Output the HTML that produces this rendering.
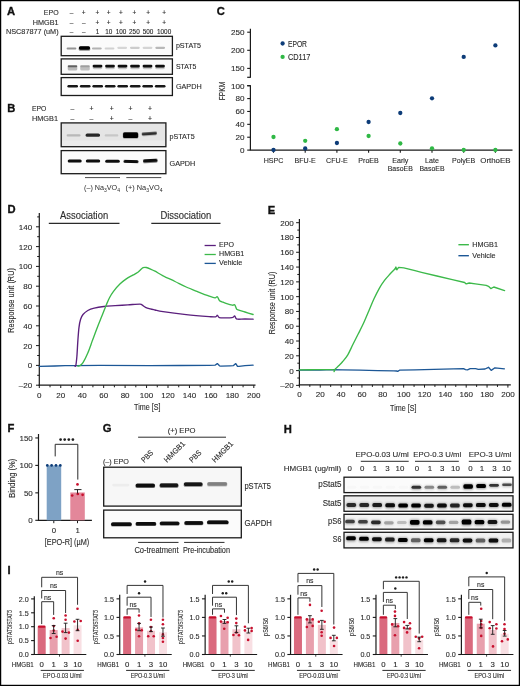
<!DOCTYPE html>
<html><head><meta charset="utf-8"><title>Figure</title>
<style>html,body{margin:0;padding:0;background:#fff;}body{width:520px;height:686px;overflow:hidden;font-family:"Liberation Sans", sans-serif;}svg{display:block;}</style></head><body>
<svg width="520" height="686" viewBox="0 0 520 686">
<defs><filter id="b1" x="-50%" y="-200%" width="200%" height="500%"><feGaussianBlur stdDeviation="0.75"/></filter><filter id="b05" x="-50%" y="-200%" width="200%" height="500%"><feGaussianBlur stdDeviation="0.45"/></filter><filter id="b2" x="-50%" y="-200%" width="200%" height="500%"><feGaussianBlur stdDeviation="1.1"/></filter><filter id="b15" x="-50%" y="-200%" width="200%" height="500%"><feGaussianBlur stdDeviation="0.9"/></filter></defs>
<rect x="0.00" y="0.00" width="520.00" height="686.00" fill="#ffffff"/>
<g font-family="'Liberation Sans', sans-serif" fill="#2b2b2b" style="will-change:transform">
<text x="6.90" y="14.80" font-size="11.2" font-weight="bold" fill="#111" stroke="#111" stroke-width="0.35">A</text>
<text x="58.60" y="15.30" font-size="7.4" text-anchor="end" textLength="14.8" lengthAdjust="spacingAndGlyphs" stroke="#2b2b2b" stroke-width="0.12">EPO</text>
<text x="58.60" y="24.50" font-size="7.4" text-anchor="end" textLength="25.8" lengthAdjust="spacingAndGlyphs" stroke="#2b2b2b" stroke-width="0.12">HMGB1</text>
<text x="58.60" y="33.50" font-size="7.4" text-anchor="end" textLength="52.6" lengthAdjust="spacingAndGlyphs" stroke="#2b2b2b" stroke-width="0.12">NSC87877 (uM)</text>
<text x="71.50" y="15.30" font-size="6.5" text-anchor="middle" stroke="#2b2b2b" stroke-width="0.12">–</text>
<text x="71.50" y="24.50" font-size="6.5" text-anchor="middle" stroke="#2b2b2b" stroke-width="0.12">–</text>
<text x="71.50" y="33.60" font-size="6.4" text-anchor="middle" stroke="#2b2b2b" stroke-width="0.12">–</text>
<text x="83.70" y="15.30" font-size="6.5" text-anchor="middle" stroke="#2b2b2b" stroke-width="0.12">+</text>
<text x="83.70" y="24.50" font-size="6.5" text-anchor="middle" stroke="#2b2b2b" stroke-width="0.12">–</text>
<text x="83.70" y="33.60" font-size="6.4" text-anchor="middle" stroke="#2b2b2b" stroke-width="0.12">–</text>
<text x="97.50" y="15.30" font-size="6.5" text-anchor="middle" stroke="#2b2b2b" stroke-width="0.12">+</text>
<text x="97.50" y="24.50" font-size="6.5" text-anchor="middle" stroke="#2b2b2b" stroke-width="0.12">+</text>
<text x="97.50" y="33.60" font-size="6.4" text-anchor="middle" stroke="#2b2b2b" stroke-width="0.12">1</text>
<text x="108.70" y="15.30" font-size="6.5" text-anchor="middle" stroke="#2b2b2b" stroke-width="0.12">+</text>
<text x="108.70" y="24.50" font-size="6.5" text-anchor="middle" stroke="#2b2b2b" stroke-width="0.12">+</text>
<text x="108.70" y="33.60" font-size="6.4" text-anchor="middle" stroke="#2b2b2b" stroke-width="0.12">10</text>
<text x="121.00" y="15.30" font-size="6.5" text-anchor="middle" stroke="#2b2b2b" stroke-width="0.12">+</text>
<text x="121.00" y="24.50" font-size="6.5" text-anchor="middle" stroke="#2b2b2b" stroke-width="0.12">+</text>
<text x="121.00" y="33.60" font-size="6.4" text-anchor="middle" stroke="#2b2b2b" stroke-width="0.12">100</text>
<text x="134.40" y="15.30" font-size="6.5" text-anchor="middle" stroke="#2b2b2b" stroke-width="0.12">+</text>
<text x="134.40" y="24.50" font-size="6.5" text-anchor="middle" stroke="#2b2b2b" stroke-width="0.12">+</text>
<text x="134.40" y="33.60" font-size="6.4" text-anchor="middle" stroke="#2b2b2b" stroke-width="0.12">250</text>
<text x="148.10" y="15.30" font-size="6.5" text-anchor="middle" stroke="#2b2b2b" stroke-width="0.12">+</text>
<text x="148.10" y="24.50" font-size="6.5" text-anchor="middle" stroke="#2b2b2b" stroke-width="0.12">+</text>
<text x="148.10" y="33.60" font-size="6.4" text-anchor="middle" stroke="#2b2b2b" stroke-width="0.12">500</text>
<text x="164.10" y="15.30" font-size="6.5" text-anchor="middle" stroke="#2b2b2b" stroke-width="0.12">+</text>
<text x="164.10" y="24.50" font-size="6.5" text-anchor="middle" stroke="#2b2b2b" stroke-width="0.12">+</text>
<text x="164.10" y="33.60" font-size="6.4" text-anchor="middle" stroke="#2b2b2b" stroke-width="0.12">1000</text>
<rect x="61.20" y="36.30" width="111.20" height="19.40" fill="#fbfbfb"/>
<rect x="66.60" y="47.40" width="9.80" height="2.20" rx="1.10" fill="rgb(148,148,148)" filter="url(#b1)"/>
<rect x="78.67" y="46.40" width="11.60" height="4.40" rx="1.60" fill="rgb(140,140,140)" filter="url(#b1)"/>
<rect x="78.87" y="46.30" width="11.20" height="3.40" rx="1.60" fill="rgb(0,0,0)" filter="url(#b05)"/>
<rect x="91.94" y="47.40" width="9.80" height="2.20" rx="1.10" fill="rgb(178,178,178)" filter="url(#b1)"/>
<rect x="104.61" y="47.40" width="9.80" height="2.20" rx="1.10" fill="rgb(209,209,209)" filter="url(#b1)"/>
<rect x="117.28" y="46.70" width="9.80" height="2.20" rx="1.10" fill="rgb(214,214,214)" filter="url(#b1)"/>
<rect x="129.95" y="46.70" width="9.80" height="2.20" rx="1.10" fill="rgb(204,204,204)" filter="url(#b1)"/>
<rect x="142.62" y="46.70" width="9.80" height="2.20" rx="1.10" fill="rgb(212,212,212)" filter="url(#b1)"/>
<rect x="155.29" y="46.70" width="9.80" height="2.20" rx="1.10" fill="rgb(184,184,184)" filter="url(#b1)"/>
<rect x="61.20" y="36.30" width="111.20" height="19.40" fill="none" stroke="#1a1a1a" stroke-width="1.3"/>
<rect x="61.20" y="58.90" width="111.20" height="15.40" fill="#fafafa"/>
<rect x="67.70" y="65.90" width="9.60" height="4.60" rx="1.60" fill="rgb(184,184,184)" filter="url(#b1)"/>
<rect x="67.70" y="65.20" width="9.60" height="2.00" rx="1.00" fill="rgb(97,97,97)" filter="url(#b1)"/>
<rect x="80.20" y="65.90" width="9.60" height="4.60" rx="1.60" fill="rgb(191,191,191)" filter="url(#b1)"/>
<rect x="80.20" y="65.20" width="9.60" height="2.00" rx="1.00" fill="rgb(158,158,158)" filter="url(#b1)"/>
<rect x="92.60" y="65.60" width="9.80" height="3.60" rx="1.60" fill="rgb(199,199,199)" filter="url(#b1)"/>
<rect x="92.60" y="64.80" width="9.80" height="2.60" rx="1.30" fill="rgb(13,13,13)" filter="url(#b05)"/>
<rect x="105.10" y="65.60" width="9.80" height="3.60" rx="1.60" fill="rgb(199,199,199)" filter="url(#b1)"/>
<rect x="105.10" y="64.80" width="9.80" height="2.60" rx="1.30" fill="rgb(13,13,13)" filter="url(#b05)"/>
<rect x="117.60" y="65.60" width="9.80" height="3.60" rx="1.60" fill="rgb(199,199,199)" filter="url(#b1)"/>
<rect x="117.60" y="64.80" width="9.80" height="2.60" rx="1.30" fill="rgb(13,13,13)" filter="url(#b05)"/>
<rect x="130.10" y="65.60" width="9.80" height="3.60" rx="1.60" fill="rgb(199,199,199)" filter="url(#b1)"/>
<rect x="130.10" y="64.80" width="9.80" height="2.60" rx="1.30" fill="rgb(13,13,13)" filter="url(#b05)"/>
<rect x="142.60" y="65.60" width="9.80" height="3.60" rx="1.60" fill="rgb(199,199,199)" filter="url(#b1)"/>
<rect x="142.60" y="64.80" width="9.80" height="2.60" rx="1.30" fill="rgb(13,13,13)" filter="url(#b05)"/>
<rect x="155.10" y="65.60" width="9.80" height="3.60" rx="1.60" fill="rgb(199,199,199)" filter="url(#b1)"/>
<rect x="155.10" y="64.80" width="9.80" height="2.60" rx="1.30" fill="rgb(13,13,13)" filter="url(#b05)"/>
<rect x="61.20" y="58.90" width="111.20" height="15.40" fill="none" stroke="#1a1a1a" stroke-width="1.3"/>
<rect x="61.20" y="77.60" width="111.20" height="17.90" fill="#fcfcfc"/>
<rect x="67.40" y="84.90" width="10.60" height="2.60" rx="1.30" fill="rgb(18,18,18)" filter="url(#b05)"/>
<rect x="79.90" y="84.90" width="10.60" height="2.60" rx="1.30" fill="rgb(18,18,18)" filter="url(#b05)"/>
<rect x="92.40" y="84.90" width="10.60" height="2.60" rx="1.30" fill="rgb(18,18,18)" filter="url(#b05)"/>
<rect x="104.90" y="84.90" width="10.60" height="2.60" rx="1.30" fill="rgb(18,18,18)" filter="url(#b05)"/>
<rect x="117.40" y="84.90" width="10.60" height="2.60" rx="1.30" fill="rgb(18,18,18)" filter="url(#b05)"/>
<rect x="129.90" y="84.90" width="10.60" height="2.60" rx="1.30" fill="rgb(18,18,18)" filter="url(#b05)"/>
<rect x="142.40" y="84.90" width="10.60" height="2.60" rx="1.30" fill="rgb(18,18,18)" filter="url(#b05)"/>
<rect x="154.90" y="84.90" width="10.60" height="2.60" rx="1.30" fill="rgb(18,18,18)" filter="url(#b05)"/>
<rect x="61.20" y="77.60" width="111.20" height="17.90" fill="none" stroke="#1a1a1a" stroke-width="1.3"/>
<text x="175.90" y="47.90" font-size="7.7" textLength="25.1" lengthAdjust="spacingAndGlyphs" stroke="#2b2b2b" stroke-width="0.12">pSTAT5</text>
<text x="175.90" y="68.80" font-size="7.7" textLength="20.5" lengthAdjust="spacingAndGlyphs" stroke="#2b2b2b" stroke-width="0.12">STAT5</text>
<text x="175.90" y="88.80" font-size="7.7" textLength="25.8" lengthAdjust="spacingAndGlyphs" stroke="#2b2b2b" stroke-width="0.12">GAPDH</text>
<text x="7.30" y="111.80" font-size="11.2" font-weight="bold" fill="#111" stroke="#111" stroke-width="0.35">B</text>
<text x="32.00" y="111.30" font-size="7.5" textLength="14.4" lengthAdjust="spacingAndGlyphs" stroke="#2b2b2b" stroke-width="0.12">EPO</text>
<text x="32.00" y="120.80" font-size="7.5" textLength="26.0" lengthAdjust="spacingAndGlyphs" stroke="#2b2b2b" stroke-width="0.12">HMGB1</text>
<text x="72.50" y="111.30" font-size="6.8" text-anchor="middle" stroke="#2b2b2b" stroke-width="0.12">–</text>
<text x="72.50" y="120.70" font-size="6.8" text-anchor="middle" stroke="#2b2b2b" stroke-width="0.12">–</text>
<text x="91.50" y="111.30" font-size="6.8" text-anchor="middle" stroke="#2b2b2b" stroke-width="0.12">+</text>
<text x="91.50" y="120.70" font-size="6.8" text-anchor="middle" stroke="#2b2b2b" stroke-width="0.12">–</text>
<text x="111.70" y="111.30" font-size="6.8" text-anchor="middle" stroke="#2b2b2b" stroke-width="0.12">+</text>
<text x="111.70" y="120.70" font-size="6.8" text-anchor="middle" stroke="#2b2b2b" stroke-width="0.12">+</text>
<text x="130.50" y="111.30" font-size="6.8" text-anchor="middle" stroke="#2b2b2b" stroke-width="0.12">+</text>
<text x="130.50" y="120.70" font-size="6.8" text-anchor="middle" stroke="#2b2b2b" stroke-width="0.12">–</text>
<text x="150.00" y="111.30" font-size="6.8" text-anchor="middle" stroke="#2b2b2b" stroke-width="0.12">+</text>
<text x="150.00" y="120.70" font-size="6.8" text-anchor="middle" stroke="#2b2b2b" stroke-width="0.12">+</text>
<rect x="61.20" y="122.90" width="104.70" height="23.80" fill="#e5e5e5"/>
<rect x="61.2" y="140.5" width="104.7" height="6.2" fill="#ebebeb" filter="url(#b1)"/>
<rect x="66.60" y="134.30" width="14.00" height="2.20" rx="1.10" fill="rgb(184,184,184)" filter="url(#b1)"/>
<rect x="85.60" y="133.40" width="14.40" height="3.40" rx="1.60" fill="rgb(38,38,38)" filter="url(#b1)"/>
<rect x="104.65" y="134.30" width="13.70" height="2.20" rx="1.10" fill="rgb(199,199,199)" filter="url(#b1)"/>
<rect x="122.80" y="132.10" width="15.60" height="6.40" rx="1.60" fill="rgb(128,128,128)" filter="url(#b1)"/>
<rect x="123.10" y="132.40" width="15.00" height="5.60" rx="1.60" fill="rgb(0,0,0)" filter="url(#b05)"/>
<rect x="141.65" y="132.25" width="15.30" height="2.90" rx="1.45" fill="rgb(46,46,46)" filter="url(#b1)" transform="rotate(-4 149.30 133.70)"/>
<rect x="61.20" y="122.90" width="104.70" height="23.80" fill="none" stroke="#1a1a1a" stroke-width="1.3"/>
<rect x="61.20" y="150.60" width="104.70" height="23.10" fill="#fbfbfb"/>
<rect x="67.70" y="159.50" width="14.00" height="3.00" rx="1.50" fill="rgb(13,13,13)" filter="url(#b1)"/>
<rect x="85.80" y="159.50" width="14.40" height="3.00" rx="1.50" fill="rgb(13,13,13)" filter="url(#b1)"/>
<rect x="105.20" y="159.70" width="14.60" height="3.00" rx="1.50" fill="rgb(13,13,13)" filter="url(#b1)"/>
<rect x="123.50" y="160.10" width="15.00" height="3.00" rx="1.50" fill="rgb(13,13,13)" filter="url(#b1)" transform="rotate(1.5 131.00 161.60)"/>
<rect x="143.00" y="159.00" width="14.60" height="3.60" rx="1.60" fill="rgb(13,13,13)" filter="url(#b1)" transform="rotate(-3 150.30 160.80)"/>
<rect x="61.20" y="150.60" width="104.70" height="23.10" fill="none" stroke="#1a1a1a" stroke-width="1.3"/>
<text x="169.50" y="138.90" font-size="7.7" textLength="25.1" lengthAdjust="spacingAndGlyphs" stroke="#2b2b2b" stroke-width="0.12">pSTAT5</text>
<text x="169.50" y="166.40" font-size="7.7" textLength="25.8" lengthAdjust="spacingAndGlyphs" stroke="#2b2b2b" stroke-width="0.12">GAPDH</text>
<line x1="85.00" y1="177.60" x2="120.00" y2="177.60" stroke="#333" stroke-width="0.9"/>
<line x1="126.30" y1="177.60" x2="161.30" y2="177.60" stroke="#333" stroke-width="0.9"/>
<text x="84" y="190.2" font-size="7.2" fill="#2b2b2b" textLength="36" lengthAdjust="spacingAndGlyphs">(–) Na<tspan font-size="5" dy="1.5">3</tspan><tspan dy="-1.5">VO</tspan><tspan font-size="5" dy="1.5">4</tspan></text>
<text x="125.5" y="190.2" font-size="7.2" fill="#2b2b2b" textLength="37" lengthAdjust="spacingAndGlyphs">(+) Na<tspan font-size="5" dy="1.5">3</tspan><tspan dy="-1.5">VO</tspan><tspan font-size="5" dy="1.5">4</tspan></text>
<text x="216.80" y="15.20" font-size="11.2" font-weight="bold" fill="#111" stroke="#111" stroke-width="0.35">C</text>
<line x1="250.40" y1="28.80" x2="250.40" y2="77.30" stroke="#1a1a1a" stroke-width="1.2"/>
<line x1="247.20" y1="77.30" x2="250.90" y2="77.30" stroke="#1a1a1a" stroke-width="1.2"/>
<line x1="247.20" y1="32.20" x2="250.40" y2="32.20" stroke="#1a1a1a" stroke-width="1.1"/>
<text x="244.50" y="35.10" font-size="8.1" text-anchor="end" stroke="#2b2b2b" stroke-width="0.12">250</text>
<line x1="247.20" y1="50.30" x2="250.40" y2="50.30" stroke="#1a1a1a" stroke-width="1.1"/>
<text x="244.50" y="53.20" font-size="8.1" text-anchor="end" stroke="#2b2b2b" stroke-width="0.12">200</text>
<line x1="247.20" y1="68.40" x2="250.40" y2="68.40" stroke="#1a1a1a" stroke-width="1.1"/>
<text x="244.50" y="71.30" font-size="8.1" text-anchor="end" stroke="#2b2b2b" stroke-width="0.12">150</text>
<line x1="250.40" y1="85.70" x2="250.40" y2="150.10" stroke="#1a1a1a" stroke-width="1.2"/>
<line x1="247.20" y1="85.70" x2="250.90" y2="85.70" stroke="#1a1a1a" stroke-width="1.2"/>
<line x1="247.20" y1="85.70" x2="250.40" y2="85.70" stroke="#1a1a1a" stroke-width="1.1"/>
<text x="244.50" y="88.60" font-size="8.1" text-anchor="end" stroke="#2b2b2b" stroke-width="0.12">100</text>
<line x1="247.20" y1="98.58" x2="250.40" y2="98.58" stroke="#1a1a1a" stroke-width="1.1"/>
<text x="244.50" y="101.48" font-size="8.1" text-anchor="end" stroke="#2b2b2b" stroke-width="0.12">80</text>
<line x1="247.20" y1="111.46" x2="250.40" y2="111.46" stroke="#1a1a1a" stroke-width="1.1"/>
<text x="244.50" y="114.36" font-size="8.1" text-anchor="end" stroke="#2b2b2b" stroke-width="0.12">60</text>
<line x1="247.20" y1="124.34" x2="250.40" y2="124.34" stroke="#1a1a1a" stroke-width="1.1"/>
<text x="244.50" y="127.24" font-size="8.1" text-anchor="end" stroke="#2b2b2b" stroke-width="0.12">40</text>
<line x1="247.20" y1="137.22" x2="250.40" y2="137.22" stroke="#1a1a1a" stroke-width="1.1"/>
<text x="244.50" y="140.12" font-size="8.1" text-anchor="end" stroke="#2b2b2b" stroke-width="0.12">20</text>
<line x1="247.20" y1="150.10" x2="250.40" y2="150.10" stroke="#1a1a1a" stroke-width="1.1"/>
<text x="244.50" y="153.00" font-size="8.1" text-anchor="end" stroke="#2b2b2b" stroke-width="0.12">0</text>
<line x1="249.80" y1="150.10" x2="512.50" y2="150.10" stroke="#1a1a1a" stroke-width="1.25"/>
<line x1="273.50" y1="150.10" x2="273.50" y2="152.80" stroke="#1a1a1a" stroke-width="1.1"/>
<text x="273.50" y="162.60" font-size="7.9" text-anchor="middle" textLength="19.75" lengthAdjust="spacingAndGlyphs" stroke="#2b2b2b" stroke-width="0.12">HSPC</text>
<line x1="305.20" y1="150.10" x2="305.20" y2="152.80" stroke="#1a1a1a" stroke-width="1.1"/>
<text x="305.20" y="162.60" font-size="7.9" text-anchor="middle" textLength="21.33" lengthAdjust="spacingAndGlyphs" stroke="#2b2b2b" stroke-width="0.12">BFU-E</text>
<line x1="336.90" y1="150.10" x2="336.90" y2="152.80" stroke="#1a1a1a" stroke-width="1.1"/>
<text x="336.90" y="162.60" font-size="7.9" text-anchor="middle" textLength="21.72" lengthAdjust="spacingAndGlyphs" stroke="#2b2b2b" stroke-width="0.12">CFU-E</text>
<line x1="368.60" y1="150.10" x2="368.60" y2="152.80" stroke="#1a1a1a" stroke-width="1.1"/>
<text x="368.60" y="162.60" font-size="7.9" text-anchor="middle" textLength="20.55" lengthAdjust="spacingAndGlyphs" stroke="#2b2b2b" stroke-width="0.12">ProEB</text>
<line x1="400.30" y1="150.10" x2="400.30" y2="152.80" stroke="#1a1a1a" stroke-width="1.1"/>
<text x="400.30" y="162.60" font-size="7.9" text-anchor="middle" textLength="16.2" lengthAdjust="spacingAndGlyphs" stroke="#2b2b2b" stroke-width="0.12">Early</text>
<text x="400.30" y="170.90" font-size="7.9" text-anchor="middle" textLength="25.12" lengthAdjust="spacingAndGlyphs" stroke="#2b2b2b" stroke-width="0.12">BasoEB</text>
<line x1="432.00" y1="150.10" x2="432.00" y2="152.80" stroke="#1a1a1a" stroke-width="1.1"/>
<text x="432.00" y="162.60" font-size="7.9" text-anchor="middle" textLength="13.84" lengthAdjust="spacingAndGlyphs" stroke="#2b2b2b" stroke-width="0.12">Late</text>
<text x="432.00" y="170.90" font-size="7.9" text-anchor="middle" textLength="25.12" lengthAdjust="spacingAndGlyphs" stroke="#2b2b2b" stroke-width="0.12">BasoEB</text>
<line x1="463.70" y1="150.10" x2="463.70" y2="152.80" stroke="#1a1a1a" stroke-width="1.1"/>
<text x="463.70" y="162.60" font-size="7.9" text-anchor="middle" textLength="23.32" lengthAdjust="spacingAndGlyphs" stroke="#2b2b2b" stroke-width="0.12">PolyEB</text>
<line x1="495.40" y1="150.10" x2="495.40" y2="152.80" stroke="#1a1a1a" stroke-width="1.1"/>
<text x="495.40" y="162.60" font-size="7.9" text-anchor="middle" textLength="30.3" lengthAdjust="spacingAndGlyphs" stroke="#2b2b2b" stroke-width="0.12">OrthoEB</text>
<text x="224.90" y="91.00" font-size="9.4" text-anchor="middle" textLength="18.3" lengthAdjust="spacingAndGlyphs" transform="rotate(-90 224.90 91.00)" stroke="#2b2b2b" stroke-width="0.12">FPKM</text>
<circle cx="273.50" cy="137.00" r="2.15" fill="#2fb845"/>
<circle cx="305.20" cy="140.80" r="2.15" fill="#2fb845"/>
<circle cx="336.90" cy="129.20" r="2.15" fill="#2fb845"/>
<circle cx="368.60" cy="136.00" r="2.15" fill="#2fb845"/>
<circle cx="400.30" cy="143.50" r="2.15" fill="#2fb845"/>
<circle cx="432.00" cy="148.30" r="2.15" fill="#2fb845"/>
<circle cx="463.70" cy="150.00" r="2.15" fill="#2fb845"/>
<circle cx="495.40" cy="150.00" r="2.15" fill="#2fb845"/>
<circle cx="273.50" cy="150.00" r="2.15" fill="#0d3c78"/>
<circle cx="305.20" cy="148.50" r="2.15" fill="#0d3c78"/>
<circle cx="336.90" cy="143.00" r="2.15" fill="#0d3c78"/>
<circle cx="368.60" cy="122.00" r="2.15" fill="#0d3c78"/>
<circle cx="400.30" cy="113.00" r="2.15" fill="#0d3c78"/>
<circle cx="432.00" cy="98.30" r="2.15" fill="#0d3c78"/>
<circle cx="463.70" cy="56.90" r="2.15" fill="#0d3c78"/>
<circle cx="495.40" cy="45.40" r="2.15" fill="#0d3c78"/>
<circle cx="282.60" cy="43.50" r="2.15" fill="#0d3c78"/>
<circle cx="282.60" cy="56.90" r="2.15" fill="#2fb845"/>
<text x="287.90" y="46.90" font-size="8.7" textLength="19.1" lengthAdjust="spacingAndGlyphs" stroke="#2b2b2b" stroke-width="0.12">EPOR</text>
<text x="287.90" y="60.30" font-size="8.7" textLength="22.5" lengthAdjust="spacingAndGlyphs" stroke="#2b2b2b" stroke-width="0.12">CD117</text>
<text x="7.50" y="212.60" font-size="11.2" font-weight="bold" fill="#111" stroke="#111" stroke-width="0.35">D</text>
<line x1="39.30" y1="213.00" x2="39.30" y2="385.80" stroke="#1a1a1a" stroke-width="1.2"/>
<line x1="36.00" y1="385.20" x2="39.30" y2="385.20" stroke="#1a1a1a" stroke-width="1.0"/>
<text x="32.20" y="388.10" font-size="8.0" text-anchor="end" stroke="#2b2b2b" stroke-width="0.12">–20</text>
<line x1="37.20" y1="375.30" x2="39.30" y2="375.30" stroke="#1a1a1a" stroke-width="1.0"/>
<line x1="36.00" y1="365.40" x2="39.30" y2="365.40" stroke="#1a1a1a" stroke-width="1.0"/>
<text x="32.20" y="368.30" font-size="8.0" text-anchor="end" stroke="#2b2b2b" stroke-width="0.12">0</text>
<line x1="37.20" y1="355.50" x2="39.30" y2="355.50" stroke="#1a1a1a" stroke-width="1.0"/>
<line x1="36.00" y1="345.60" x2="39.30" y2="345.60" stroke="#1a1a1a" stroke-width="1.0"/>
<text x="32.20" y="348.50" font-size="8.0" text-anchor="end" stroke="#2b2b2b" stroke-width="0.12">20</text>
<line x1="37.20" y1="335.70" x2="39.30" y2="335.70" stroke="#1a1a1a" stroke-width="1.0"/>
<line x1="36.00" y1="325.80" x2="39.30" y2="325.80" stroke="#1a1a1a" stroke-width="1.0"/>
<text x="32.20" y="328.70" font-size="8.0" text-anchor="end" stroke="#2b2b2b" stroke-width="0.12">40</text>
<line x1="37.20" y1="315.90" x2="39.30" y2="315.90" stroke="#1a1a1a" stroke-width="1.0"/>
<line x1="36.00" y1="306.00" x2="39.30" y2="306.00" stroke="#1a1a1a" stroke-width="1.0"/>
<text x="32.20" y="308.90" font-size="8.0" text-anchor="end" stroke="#2b2b2b" stroke-width="0.12">60</text>
<line x1="37.20" y1="296.10" x2="39.30" y2="296.10" stroke="#1a1a1a" stroke-width="1.0"/>
<line x1="36.00" y1="286.20" x2="39.30" y2="286.20" stroke="#1a1a1a" stroke-width="1.0"/>
<text x="32.20" y="289.10" font-size="8.0" text-anchor="end" stroke="#2b2b2b" stroke-width="0.12">80</text>
<line x1="37.20" y1="276.30" x2="39.30" y2="276.30" stroke="#1a1a1a" stroke-width="1.0"/>
<line x1="36.00" y1="266.40" x2="39.30" y2="266.40" stroke="#1a1a1a" stroke-width="1.0"/>
<text x="32.20" y="269.30" font-size="8.0" text-anchor="end" stroke="#2b2b2b" stroke-width="0.12">100</text>
<line x1="37.20" y1="256.50" x2="39.30" y2="256.50" stroke="#1a1a1a" stroke-width="1.0"/>
<line x1="36.00" y1="246.60" x2="39.30" y2="246.60" stroke="#1a1a1a" stroke-width="1.0"/>
<text x="32.20" y="249.50" font-size="8.0" text-anchor="end" stroke="#2b2b2b" stroke-width="0.12">120</text>
<line x1="37.20" y1="236.70" x2="39.30" y2="236.70" stroke="#1a1a1a" stroke-width="1.0"/>
<line x1="36.00" y1="226.80" x2="39.30" y2="226.80" stroke="#1a1a1a" stroke-width="1.0"/>
<text x="32.20" y="229.70" font-size="8.0" text-anchor="end" stroke="#2b2b2b" stroke-width="0.12">140</text>
<line x1="37.20" y1="216.90" x2="39.30" y2="216.90" stroke="#1a1a1a" stroke-width="1.0"/>
<line x1="38.70" y1="385.20" x2="255.50" y2="385.20" stroke="#1a1a1a" stroke-width="1.2"/>
<line x1="39.30" y1="385.20" x2="39.30" y2="388.00" stroke="#1a1a1a" stroke-width="1.0"/>
<text x="39.30" y="397.60" font-size="8.0" text-anchor="middle" stroke="#2b2b2b" stroke-width="0.12">0</text>
<line x1="50.02" y1="385.20" x2="50.02" y2="387.30" stroke="#1a1a1a" stroke-width="1.0"/>
<line x1="60.75" y1="385.20" x2="60.75" y2="388.00" stroke="#1a1a1a" stroke-width="1.0"/>
<text x="60.75" y="397.60" font-size="8.0" text-anchor="middle" stroke="#2b2b2b" stroke-width="0.12">20</text>
<line x1="71.47" y1="385.20" x2="71.47" y2="387.30" stroke="#1a1a1a" stroke-width="1.0"/>
<line x1="82.20" y1="385.20" x2="82.20" y2="388.00" stroke="#1a1a1a" stroke-width="1.0"/>
<text x="82.20" y="397.60" font-size="8.0" text-anchor="middle" stroke="#2b2b2b" stroke-width="0.12">40</text>
<line x1="92.92" y1="385.20" x2="92.92" y2="387.30" stroke="#1a1a1a" stroke-width="1.0"/>
<line x1="103.65" y1="385.20" x2="103.65" y2="388.00" stroke="#1a1a1a" stroke-width="1.0"/>
<text x="103.65" y="397.60" font-size="8.0" text-anchor="middle" stroke="#2b2b2b" stroke-width="0.12">60</text>
<line x1="114.38" y1="385.20" x2="114.38" y2="387.30" stroke="#1a1a1a" stroke-width="1.0"/>
<line x1="125.10" y1="385.20" x2="125.10" y2="388.00" stroke="#1a1a1a" stroke-width="1.0"/>
<text x="125.10" y="397.60" font-size="8.0" text-anchor="middle" stroke="#2b2b2b" stroke-width="0.12">80</text>
<line x1="135.82" y1="385.20" x2="135.82" y2="387.30" stroke="#1a1a1a" stroke-width="1.0"/>
<line x1="146.55" y1="385.20" x2="146.55" y2="388.00" stroke="#1a1a1a" stroke-width="1.0"/>
<text x="146.55" y="397.60" font-size="8.0" text-anchor="middle" stroke="#2b2b2b" stroke-width="0.12">100</text>
<line x1="157.27" y1="385.20" x2="157.27" y2="387.30" stroke="#1a1a1a" stroke-width="1.0"/>
<line x1="168.00" y1="385.20" x2="168.00" y2="388.00" stroke="#1a1a1a" stroke-width="1.0"/>
<text x="168.00" y="397.60" font-size="8.0" text-anchor="middle" stroke="#2b2b2b" stroke-width="0.12">120</text>
<line x1="178.73" y1="385.20" x2="178.73" y2="387.30" stroke="#1a1a1a" stroke-width="1.0"/>
<line x1="189.45" y1="385.20" x2="189.45" y2="388.00" stroke="#1a1a1a" stroke-width="1.0"/>
<text x="189.45" y="397.60" font-size="8.0" text-anchor="middle" stroke="#2b2b2b" stroke-width="0.12">140</text>
<line x1="200.18" y1="385.20" x2="200.18" y2="387.30" stroke="#1a1a1a" stroke-width="1.0"/>
<line x1="210.90" y1="385.20" x2="210.90" y2="388.00" stroke="#1a1a1a" stroke-width="1.0"/>
<text x="210.90" y="397.60" font-size="8.0" text-anchor="middle" stroke="#2b2b2b" stroke-width="0.12">160</text>
<line x1="221.62" y1="385.20" x2="221.62" y2="387.30" stroke="#1a1a1a" stroke-width="1.0"/>
<line x1="232.35" y1="385.20" x2="232.35" y2="388.00" stroke="#1a1a1a" stroke-width="1.0"/>
<text x="232.35" y="397.60" font-size="8.0" text-anchor="middle" stroke="#2b2b2b" stroke-width="0.12">180</text>
<line x1="243.07" y1="385.20" x2="243.07" y2="387.30" stroke="#1a1a1a" stroke-width="1.0"/>
<line x1="253.80" y1="385.20" x2="253.80" y2="388.00" stroke="#1a1a1a" stroke-width="1.0"/>
<text x="253.80" y="397.60" font-size="8.0" text-anchor="middle" stroke="#2b2b2b" stroke-width="0.12">200</text>
<text x="134.10" y="410.30" font-size="9.0" textLength="26.3" lengthAdjust="spacingAndGlyphs" stroke="#2b2b2b" stroke-width="0.12">Time [S]</text>
<text x="14.20" y="300.40" font-size="9.4" text-anchor="middle" textLength="64.6" lengthAdjust="spacingAndGlyphs" transform="rotate(-90 14.20 300.40)" stroke="#2b2b2b" stroke-width="0.12">Response unit (RU)</text>
<text x="60.00" y="219.30" font-size="10" textLength="48.2" lengthAdjust="spacingAndGlyphs" stroke="#2b2b2b" stroke-width="0.12">Association</text>
<line x1="48.80" y1="223.40" x2="119.50" y2="223.40" stroke="#2a2a2a" stroke-width="1.1"/>
<text x="160.40" y="219.30" font-size="10" textLength="50.9" lengthAdjust="spacingAndGlyphs" stroke="#2b2b2b" stroke-width="0.12">Dissociation</text>
<line x1="151.30" y1="223.40" x2="220.50" y2="223.40" stroke="#2a2a2a" stroke-width="1.1"/>
<line x1="204.60" y1="245.50" x2="215.80" y2="245.50" stroke="#5b1f7d" stroke-width="1.3"/>
<line x1="204.60" y1="254.50" x2="215.80" y2="254.50" stroke="#3cb94a" stroke-width="1.3"/>
<line x1="204.60" y1="263.40" x2="215.80" y2="263.40" stroke="#1c5796" stroke-width="1.3"/>
<text x="219.00" y="247.20" font-size="7.0" textLength="14.9" lengthAdjust="spacingAndGlyphs" stroke="#2b2b2b" stroke-width="0.12">EPO</text>
<text x="219.00" y="255.90" font-size="7.0" textLength="25.3" lengthAdjust="spacingAndGlyphs" stroke="#2b2b2b" stroke-width="0.12">HMGB1</text>
<text x="219.00" y="265.10" font-size="7.0" textLength="23.3" lengthAdjust="spacingAndGlyphs" stroke="#2b2b2b" stroke-width="0.12">Vehicle</text>
<path d="M39.30,366.30 L55.00,366.00 L65.00,365.60 L75.00,365.60 L100.00,365.40 L150.00,365.60 L180.00,365.50 L209.20,365.30 L215.00,365.20 L217.30,363.60 L219.50,365.80 L221.00,366.20 L230.00,365.80 L233.50,365.60 L235.80,363.60 L237.50,366.30 L239.00,366.40 L245.00,365.60 L253.10,365.20" fill="none" stroke="#1c5796" stroke-width="1.35" stroke-linejoin="round" stroke-linecap="round"/>
<path d="M74.80,366.00 C74.97,365.90 75.45,367.03 75.80,365.40 C76.15,363.77 76.55,360.42 76.90,356.20 C77.25,351.98 77.55,344.92 77.90,340.10 C78.25,335.28 78.55,330.77 79.00,327.30 C79.45,323.83 79.93,321.43 80.60,319.30 C81.27,317.17 81.80,315.97 83.00,314.50 C84.20,313.03 85.93,311.57 87.80,310.50 C89.67,309.43 91.53,308.77 94.20,308.10 C96.87,307.43 100.32,306.90 103.80,306.50 C107.28,306.10 111.08,305.97 115.10,305.70 C119.12,305.43 123.77,305.17 127.90,304.90 C132.03,304.63 137.50,304.05 139.90,304.10 C142.30,304.15 141.37,304.67 142.30,305.20 C143.23,305.73 144.17,306.68 145.50,307.30 C146.83,307.92 148.72,308.45 150.30,308.90 C151.88,309.35 152.87,309.53 155.00,310.00 C157.13,310.47 157.90,310.93 163.10,311.70 C168.30,312.47 178.52,313.78 186.20,314.60 C193.88,315.42 204.32,316.23 209.20,316.60 C214.08,316.97 214.15,317.02 215.50,316.80 C216.85,316.58 216.75,315.23 217.30,315.30 C217.85,315.37 218.22,316.78 218.80,317.20 C219.38,317.62 218.60,317.72 220.80,317.80 C223.00,317.88 229.70,318.00 232.00,317.70 C234.30,317.40 233.90,315.85 234.60,316.00 C235.30,316.15 235.62,318.07 236.20,318.60 C236.78,319.13 236.63,319.13 238.10,319.20 C239.57,319.27 242.50,319.00 245.00,319.00 C247.50,319.00 251.75,319.17 253.10,319.20" fill="none" stroke="#5b1f7d" stroke-width="1.35" stroke-linejoin="round" stroke-linecap="round"/>
<path d="M77.80,366.00 C78.13,365.97 78.93,366.37 79.80,365.80 C80.67,365.23 81.67,364.73 83.00,362.60 C84.33,360.47 86.20,356.75 87.80,353.00 C89.40,349.25 91.00,344.38 92.60,340.10 C94.20,335.82 95.80,331.43 97.40,327.30 C99.00,323.17 100.72,319.03 102.20,315.30 C103.68,311.57 105.08,307.83 106.30,304.90 C107.52,301.97 108.30,299.97 109.50,297.70 C110.70,295.43 111.77,293.58 113.50,291.30 C115.23,289.02 117.77,286.07 119.90,284.00 C122.03,281.93 124.17,280.37 126.30,278.90 C128.43,277.43 130.83,276.27 132.70,275.20 C134.57,274.13 136.30,273.30 137.50,272.50 C138.70,271.70 138.97,271.20 139.90,270.40 C140.83,269.60 142.03,268.18 143.10,267.70 C144.17,267.22 144.97,267.23 146.30,267.50 C147.63,267.77 149.65,268.68 151.10,269.30 C152.55,269.92 153.00,270.12 155.00,271.20 C157.00,272.28 159.77,274.08 163.10,275.80 C166.43,277.52 171.15,279.63 175.00,281.50 C178.85,283.37 182.37,285.28 186.20,287.00 C190.03,288.72 194.17,290.28 198.00,291.80 C201.83,293.32 206.37,295.10 209.20,296.10 C212.03,297.10 213.65,297.68 215.00,297.80 C216.35,297.92 216.53,296.30 217.30,296.80 C218.07,297.30 218.82,299.97 219.60,300.80 C220.38,301.63 220.93,301.37 222.00,301.80 C223.07,302.23 224.28,302.83 226.00,303.40 C227.72,303.97 230.87,304.97 232.30,305.20 C233.73,305.43 233.90,304.20 234.60,304.80 C235.30,305.40 235.92,307.95 236.50,308.80 C237.08,309.65 236.68,309.37 238.10,309.90 C239.52,310.43 242.50,311.23 245.00,312.00 C247.50,312.77 251.75,314.08 253.10,314.50" fill="none" stroke="#3cb94a" stroke-width="1.35" stroke-linejoin="round" stroke-linecap="round"/>
<text x="267.80" y="213.70" font-size="11.2" font-weight="bold" fill="#111" stroke="#111" stroke-width="0.35">E</text>
<line x1="299.40" y1="219.00" x2="299.40" y2="385.40" stroke="#1a1a1a" stroke-width="1.2"/>
<line x1="296.10" y1="385.39" x2="299.40" y2="385.39" stroke="#1a1a1a" stroke-width="1.0"/>
<text x="293.80" y="388.29" font-size="8.1" text-anchor="end" stroke="#2b2b2b" stroke-width="0.12">–20</text>
<line x1="297.30" y1="378.00" x2="299.40" y2="378.00" stroke="#1a1a1a" stroke-width="1.0"/>
<line x1="296.10" y1="370.60" x2="299.40" y2="370.60" stroke="#1a1a1a" stroke-width="1.0"/>
<text x="293.80" y="373.50" font-size="8.1" text-anchor="end" stroke="#2b2b2b" stroke-width="0.12">0</text>
<line x1="297.30" y1="363.20" x2="299.40" y2="363.20" stroke="#1a1a1a" stroke-width="1.0"/>
<line x1="296.10" y1="355.81" x2="299.40" y2="355.81" stroke="#1a1a1a" stroke-width="1.0"/>
<text x="293.80" y="358.71" font-size="8.1" text-anchor="end" stroke="#2b2b2b" stroke-width="0.12">20</text>
<line x1="297.30" y1="348.41" x2="299.40" y2="348.41" stroke="#1a1a1a" stroke-width="1.0"/>
<line x1="296.10" y1="341.02" x2="299.40" y2="341.02" stroke="#1a1a1a" stroke-width="1.0"/>
<text x="293.80" y="343.92" font-size="8.1" text-anchor="end" stroke="#2b2b2b" stroke-width="0.12">40</text>
<line x1="297.30" y1="333.62" x2="299.40" y2="333.62" stroke="#1a1a1a" stroke-width="1.0"/>
<line x1="296.10" y1="326.23" x2="299.40" y2="326.23" stroke="#1a1a1a" stroke-width="1.0"/>
<text x="293.80" y="329.13" font-size="8.1" text-anchor="end" stroke="#2b2b2b" stroke-width="0.12">60</text>
<line x1="297.30" y1="318.83" x2="299.40" y2="318.83" stroke="#1a1a1a" stroke-width="1.0"/>
<line x1="296.10" y1="311.44" x2="299.40" y2="311.44" stroke="#1a1a1a" stroke-width="1.0"/>
<text x="293.80" y="314.34" font-size="8.1" text-anchor="end" stroke="#2b2b2b" stroke-width="0.12">80</text>
<line x1="297.30" y1="304.04" x2="299.40" y2="304.04" stroke="#1a1a1a" stroke-width="1.0"/>
<line x1="296.10" y1="296.65" x2="299.40" y2="296.65" stroke="#1a1a1a" stroke-width="1.0"/>
<text x="293.80" y="299.55" font-size="8.1" text-anchor="end" stroke="#2b2b2b" stroke-width="0.12">100</text>
<line x1="297.30" y1="289.25" x2="299.40" y2="289.25" stroke="#1a1a1a" stroke-width="1.0"/>
<line x1="296.10" y1="281.86" x2="299.40" y2="281.86" stroke="#1a1a1a" stroke-width="1.0"/>
<text x="293.80" y="284.76" font-size="8.1" text-anchor="end" stroke="#2b2b2b" stroke-width="0.12">120</text>
<line x1="297.30" y1="274.46" x2="299.40" y2="274.46" stroke="#1a1a1a" stroke-width="1.0"/>
<line x1="296.10" y1="267.07" x2="299.40" y2="267.07" stroke="#1a1a1a" stroke-width="1.0"/>
<text x="293.80" y="269.97" font-size="8.1" text-anchor="end" stroke="#2b2b2b" stroke-width="0.12">140</text>
<line x1="297.30" y1="259.68" x2="299.40" y2="259.68" stroke="#1a1a1a" stroke-width="1.0"/>
<line x1="296.10" y1="252.28" x2="299.40" y2="252.28" stroke="#1a1a1a" stroke-width="1.0"/>
<text x="293.80" y="255.18" font-size="8.1" text-anchor="end" stroke="#2b2b2b" stroke-width="0.12">160</text>
<line x1="297.30" y1="244.88" x2="299.40" y2="244.88" stroke="#1a1a1a" stroke-width="1.0"/>
<line x1="296.10" y1="237.49" x2="299.40" y2="237.49" stroke="#1a1a1a" stroke-width="1.0"/>
<text x="293.80" y="240.39" font-size="8.1" text-anchor="end" stroke="#2b2b2b" stroke-width="0.12">180</text>
<line x1="297.30" y1="230.09" x2="299.40" y2="230.09" stroke="#1a1a1a" stroke-width="1.0"/>
<line x1="296.10" y1="222.70" x2="299.40" y2="222.70" stroke="#1a1a1a" stroke-width="1.0"/>
<text x="293.80" y="225.60" font-size="8.1" text-anchor="end" stroke="#2b2b2b" stroke-width="0.12">200</text>
<line x1="298.80" y1="384.80" x2="510.80" y2="384.80" stroke="#1a1a1a" stroke-width="1.2"/>
<line x1="299.40" y1="384.80" x2="299.40" y2="387.60" stroke="#1a1a1a" stroke-width="1.0"/>
<text x="299.40" y="397.10" font-size="8.1" text-anchor="middle" stroke="#2b2b2b" stroke-width="0.12">0</text>
<line x1="309.82" y1="384.80" x2="309.82" y2="386.90" stroke="#1a1a1a" stroke-width="1.0"/>
<line x1="320.25" y1="384.80" x2="320.25" y2="387.60" stroke="#1a1a1a" stroke-width="1.0"/>
<text x="320.25" y="397.10" font-size="8.1" text-anchor="middle" stroke="#2b2b2b" stroke-width="0.12">20</text>
<line x1="330.67" y1="384.80" x2="330.67" y2="386.90" stroke="#1a1a1a" stroke-width="1.0"/>
<line x1="341.10" y1="384.80" x2="341.10" y2="387.60" stroke="#1a1a1a" stroke-width="1.0"/>
<text x="341.10" y="397.10" font-size="8.1" text-anchor="middle" stroke="#2b2b2b" stroke-width="0.12">40</text>
<line x1="351.52" y1="384.80" x2="351.52" y2="386.90" stroke="#1a1a1a" stroke-width="1.0"/>
<line x1="361.95" y1="384.80" x2="361.95" y2="387.60" stroke="#1a1a1a" stroke-width="1.0"/>
<text x="361.95" y="397.10" font-size="8.1" text-anchor="middle" stroke="#2b2b2b" stroke-width="0.12">60</text>
<line x1="372.38" y1="384.80" x2="372.38" y2="386.90" stroke="#1a1a1a" stroke-width="1.0"/>
<line x1="382.80" y1="384.80" x2="382.80" y2="387.60" stroke="#1a1a1a" stroke-width="1.0"/>
<text x="382.80" y="397.10" font-size="8.1" text-anchor="middle" stroke="#2b2b2b" stroke-width="0.12">80</text>
<line x1="393.22" y1="384.80" x2="393.22" y2="386.90" stroke="#1a1a1a" stroke-width="1.0"/>
<line x1="403.65" y1="384.80" x2="403.65" y2="387.60" stroke="#1a1a1a" stroke-width="1.0"/>
<text x="403.65" y="397.10" font-size="8.1" text-anchor="middle" stroke="#2b2b2b" stroke-width="0.12">100</text>
<line x1="414.07" y1="384.80" x2="414.07" y2="386.90" stroke="#1a1a1a" stroke-width="1.0"/>
<line x1="424.50" y1="384.80" x2="424.50" y2="387.60" stroke="#1a1a1a" stroke-width="1.0"/>
<text x="424.50" y="397.10" font-size="8.1" text-anchor="middle" stroke="#2b2b2b" stroke-width="0.12">120</text>
<line x1="434.92" y1="384.80" x2="434.92" y2="386.90" stroke="#1a1a1a" stroke-width="1.0"/>
<line x1="445.35" y1="384.80" x2="445.35" y2="387.60" stroke="#1a1a1a" stroke-width="1.0"/>
<text x="445.35" y="397.10" font-size="8.1" text-anchor="middle" stroke="#2b2b2b" stroke-width="0.12">140</text>
<line x1="455.77" y1="384.80" x2="455.77" y2="386.90" stroke="#1a1a1a" stroke-width="1.0"/>
<line x1="466.20" y1="384.80" x2="466.20" y2="387.60" stroke="#1a1a1a" stroke-width="1.0"/>
<text x="466.20" y="397.10" font-size="8.1" text-anchor="middle" stroke="#2b2b2b" stroke-width="0.12">160</text>
<line x1="476.62" y1="384.80" x2="476.62" y2="386.90" stroke="#1a1a1a" stroke-width="1.0"/>
<line x1="487.05" y1="384.80" x2="487.05" y2="387.60" stroke="#1a1a1a" stroke-width="1.0"/>
<text x="487.05" y="397.10" font-size="8.1" text-anchor="middle" stroke="#2b2b2b" stroke-width="0.12">180</text>
<line x1="497.47" y1="384.80" x2="497.47" y2="386.90" stroke="#1a1a1a" stroke-width="1.0"/>
<line x1="507.90" y1="384.80" x2="507.90" y2="387.60" stroke="#1a1a1a" stroke-width="1.0"/>
<text x="507.90" y="397.10" font-size="8.1" text-anchor="middle" stroke="#2b2b2b" stroke-width="0.12">200</text>
<text x="390.10" y="410.50" font-size="9.0" textLength="26.3" lengthAdjust="spacingAndGlyphs" stroke="#2b2b2b" stroke-width="0.12">Time [S]</text>
<text x="275.00" y="303.00" font-size="9.4" text-anchor="middle" textLength="62.5" lengthAdjust="spacingAndGlyphs" transform="rotate(-90 275.00 303.00)" stroke="#2b2b2b" stroke-width="0.12">Response unit (RU)</text>
<line x1="458.40" y1="244.70" x2="468.90" y2="244.70" stroke="#3cb94a" stroke-width="1.4"/>
<line x1="458.40" y1="255.70" x2="468.90" y2="255.70" stroke="#1c5796" stroke-width="1.4"/>
<text x="472.30" y="247.10" font-size="7.3" textLength="25.6" lengthAdjust="spacingAndGlyphs" stroke="#2b2b2b" stroke-width="0.12">HMGB1</text>
<text x="472.30" y="257.90" font-size="7.3" textLength="23.2" lengthAdjust="spacingAndGlyphs" stroke="#2b2b2b" stroke-width="0.12">Vehicle</text>
<path d="M299.40,370.20 L320.00,370.00 L332.90,369.70 L342.50,369.80 L360.00,370.20 L377.50,370.60 L394.00,370.80 L396.50,371.00 L397.70,371.40 L399.50,370.20 L415.00,369.80 L433.80,369.40 L463.50,368.60 L465.50,369.60 L467.50,369.80 L470.20,368.60 L475.60,368.60 L478.30,369.30 L485.00,369.00 L488.50,367.30 L491.20,370.40 L495.00,367.80 L504.40,368.80" fill="none" stroke="#1c5796" stroke-width="1.35" stroke-linejoin="round" stroke-linecap="round"/>
<path d="M299.40,369.90 C302.00,369.87 309.42,369.73 315.00,369.70 C320.58,369.67 329.72,369.40 332.90,369.70 C336.08,370.00 333.67,371.65 334.10,371.50 C334.53,371.35 334.68,369.80 335.50,368.80 C336.32,367.80 337.83,366.67 339.00,365.50 C340.17,364.33 341.03,363.58 342.50,361.80 C343.97,360.02 346.05,357.72 347.80,354.80 C349.55,351.88 351.25,347.80 353.00,344.30 C354.75,340.80 356.55,337.30 358.30,333.80 C360.05,330.30 361.75,327.10 363.50,323.30 C365.25,319.50 367.05,315.08 368.80,311.00 C370.55,306.92 372.25,302.58 374.00,298.80 C375.75,295.02 377.55,291.37 379.30,288.30 C381.05,285.23 382.75,282.73 384.50,280.40 C386.25,278.07 388.05,276.20 389.80,274.30 C391.55,272.40 394.13,269.88 395.00,269.00" fill="none" stroke="#3cb94a" stroke-width="1.35" stroke-linejoin="round" stroke-linecap="round"/>
<path d="M395.00,269.00 L395.90,267.00 L396.80,269.90 L398.60,267.40 L403.80,267.90 L415.00,270.60 L421.50,272.30 L436.90,276.00 L452.30,279.60 L464.60,282.50 L466.20,283.90 L469.20,283.00 L475.40,283.80 L486.20,285.40 L488.50,286.30 L490.80,288.60 L493.80,287.00 L504.60,290.60" fill="none" stroke="#3cb94a" stroke-width="1.35" stroke-linejoin="round" stroke-linecap="round"/>
<text x="7.60" y="432.40" font-size="11.2" font-weight="bold" fill="#111" stroke="#111" stroke-width="0.35">F</text>
<line x1="38.50" y1="434.00" x2="38.50" y2="520.90" stroke="#1a1a1a" stroke-width="1.2"/>
<line x1="35.30" y1="520.30" x2="38.50" y2="520.30" stroke="#1a1a1a" stroke-width="1.1"/>
<text x="32.80" y="523.20" font-size="8.0" text-anchor="end" stroke="#2b2b2b" stroke-width="0.12">0</text>
<line x1="35.30" y1="492.85" x2="38.50" y2="492.85" stroke="#1a1a1a" stroke-width="1.1"/>
<text x="32.80" y="495.75" font-size="8.0" text-anchor="end" stroke="#2b2b2b" stroke-width="0.12">50</text>
<line x1="35.30" y1="465.40" x2="38.50" y2="465.40" stroke="#1a1a1a" stroke-width="1.1"/>
<text x="32.80" y="468.30" font-size="8.0" text-anchor="end" stroke="#2b2b2b" stroke-width="0.12">100</text>
<line x1="35.30" y1="437.95" x2="38.50" y2="437.95" stroke="#1a1a1a" stroke-width="1.1"/>
<text x="32.80" y="440.85" font-size="8.0" text-anchor="end" stroke="#2b2b2b" stroke-width="0.12">150</text>
<line x1="37.90" y1="520.30" x2="91.90" y2="520.30" stroke="#1a1a1a" stroke-width="1.2"/>
<line x1="53.80" y1="520.30" x2="53.80" y2="523.20" stroke="#1a1a1a" stroke-width="1.0"/>
<line x1="77.50" y1="520.30" x2="77.50" y2="523.20" stroke="#1a1a1a" stroke-width="1.0"/>
<rect x="46.70" y="465.40" width="14.50" height="54.90" fill="#7ea2c5"/>
<rect x="70.30" y="492.47" width="14.50" height="27.83" fill="#e3879a"/>
<circle cx="47.30" cy="465.40" r="1.35" fill="#0d3c78"/>
<circle cx="51.60" cy="465.40" r="1.35" fill="#0d3c78"/>
<circle cx="56.00" cy="465.40" r="1.35" fill="#0d3c78"/>
<circle cx="60.30" cy="465.40" r="1.35" fill="#0d3c78"/>
<circle cx="77.50" cy="484.40" r="1.35" fill="#c8102e"/>
<circle cx="72.20" cy="495.50" r="1.35" fill="#c8102e"/>
<circle cx="77.80" cy="494.00" r="1.35" fill="#c8102e"/>
<circle cx="82.60" cy="494.80" r="1.35" fill="#c8102e"/>
<line x1="77.50" y1="489.60" x2="77.50" y2="493.50" stroke="#1a1a1a" stroke-width="0.95"/>
<line x1="74.30" y1="489.60" x2="81.50" y2="489.60" stroke="#1a1a1a" stroke-width="0.95"/>
<path d="M55.20,456.00 L55.20,444.30 L77.80,444.30 L77.80,479.20" fill="none" stroke="#2a2a2a" stroke-width="1.0" stroke-linejoin="round" stroke-linecap="round"/>
<circle cx="60.60" cy="439.60" r="1.35" fill="#1e1e1e"/>
<circle cx="64.70" cy="439.60" r="1.35" fill="#1e1e1e"/>
<circle cx="68.80" cy="439.60" r="1.35" fill="#1e1e1e"/>
<circle cx="72.90" cy="439.60" r="1.35" fill="#1e1e1e"/>
<text x="53.80" y="532.50" font-size="7.8" text-anchor="middle" stroke="#2b2b2b" stroke-width="0.12">0</text>
<text x="77.60" y="532.50" font-size="7.8" text-anchor="middle" stroke="#2b2b2b" stroke-width="0.12">1</text>
<text x="44.80" y="545.40" font-size="9.0" textLength="44.4" lengthAdjust="spacingAndGlyphs" stroke="#2b2b2b" stroke-width="0.12">[EPO-R] (µM)</text>
<text x="14.60" y="478.20" font-size="9.2" text-anchor="middle" textLength="38.9" lengthAdjust="spacingAndGlyphs" transform="rotate(-90 14.60 478.20)" stroke="#2b2b2b" stroke-width="0.12">Binding (%)</text>
<text x="102.80" y="432.40" font-size="11.2" font-weight="bold" fill="#111" stroke="#111" stroke-width="0.35">G</text>
<text x="181.60" y="432.60" font-size="7.9" text-anchor="middle" textLength="27.9" lengthAdjust="spacingAndGlyphs" stroke="#2b2b2b" stroke-width="0.12">(+) EPO</text>
<line x1="138.10" y1="437.20" x2="226.00" y2="437.20" stroke="#2a2a2a" stroke-width="1.0"/>
<text x="102.90" y="463.90" font-size="7.9" textLength="25.9" lengthAdjust="spacingAndGlyphs" stroke="#2b2b2b" stroke-width="0.12">(–) EPO</text>
<text x="144.20" y="462.90" font-size="7.7" textLength="13.6" lengthAdjust="spacingAndGlyphs" transform="rotate(-45 144.20 462.90)" stroke="#2b2b2b" stroke-width="0.12">PBS</text>
<text x="167.00" y="463.00" font-size="7.7" textLength="26.4" lengthAdjust="spacingAndGlyphs" transform="rotate(-45 167.00 463.00)" stroke="#2b2b2b" stroke-width="0.12">HMGB1</text>
<text x="192.30" y="462.90" font-size="7.7" textLength="13.6" lengthAdjust="spacingAndGlyphs" transform="rotate(-45 192.30 462.90)" stroke="#2b2b2b" stroke-width="0.12">PBS</text>
<text x="215.10" y="463.00" font-size="7.7" textLength="26.4" lengthAdjust="spacingAndGlyphs" transform="rotate(-45 215.10 463.00)" stroke="#2b2b2b" stroke-width="0.12">HMGB1</text>
<rect x="103.70" y="467.20" width="137.60" height="38.90" fill="#f7f7f7"/>
<rect x="112.30" y="483.80" width="17.00" height="2.60" rx="1.30" fill="rgb(237,237,237)" filter="url(#b1)"/>
<rect x="135.50" y="483.50" width="19.60" height="4.60" rx="1.60" fill="rgb(119,119,119)" filter="url(#b1)"/>
<rect x="135.80" y="483.75" width="19.00" height="3.50" rx="1.60" fill="rgb(8,8,8)" filter="url(#b05)"/>
<rect x="159.50" y="483.30" width="19.00" height="4.60" rx="1.60" fill="rgb(129,129,129)" filter="url(#b1)"/>
<rect x="159.80" y="483.55" width="18.40" height="3.50" rx="1.60" fill="rgb(25,25,25)" filter="url(#b05)"/>
<rect x="183.70" y="482.20" width="19.00" height="4.60" rx="1.60" fill="rgb(125,125,125)" filter="url(#b1)"/>
<rect x="184.00" y="482.45" width="18.40" height="3.50" rx="1.60" fill="rgb(18,18,18)" filter="url(#b05)"/>
<rect x="207.10" y="481.90" width="20.20" height="4.60" rx="1.60" fill="rgb(185,185,185)" filter="url(#b1)"/>
<rect x="207.40" y="482.15" width="19.60" height="3.50" rx="1.60" fill="rgb(128,128,128)" filter="url(#b05)"/>
<rect x="103.70" y="467.20" width="137.60" height="38.90" fill="none" stroke="#1a1a1a" stroke-width="1.3"/>
<rect x="103.70" y="510.10" width="137.60" height="27.70" fill="#fbfbfb"/>
<rect x="110.90" y="522.30" width="21.00" height="4.20" rx="1.60" fill="rgb(128,128,128)" filter="url(#b1)"/>
<rect x="111.20" y="522.50" width="20.40" height="3.40" rx="1.60" fill="rgb(8,8,8)" filter="url(#b05)"/>
<rect x="135.50" y="521.90" width="20.80" height="4.20" rx="1.60" fill="rgb(128,128,128)" filter="url(#b1)"/>
<rect x="135.80" y="522.10" width="20.20" height="3.40" rx="1.60" fill="rgb(8,8,8)" filter="url(#b05)"/>
<rect x="159.60" y="521.50" width="20.00" height="4.20" rx="1.60" fill="rgb(128,128,128)" filter="url(#b1)"/>
<rect x="159.90" y="521.70" width="19.40" height="3.40" rx="1.60" fill="rgb(8,8,8)" filter="url(#b05)"/>
<rect x="184.20" y="521.10" width="19.20" height="4.20" rx="1.60" fill="rgb(128,128,128)" filter="url(#b1)"/>
<rect x="184.50" y="521.30" width="18.60" height="3.40" rx="1.60" fill="rgb(8,8,8)" filter="url(#b05)"/>
<rect x="206.90" y="520.40" width="21.80" height="4.20" rx="1.60" fill="rgb(128,128,128)" filter="url(#b1)"/>
<rect x="207.20" y="520.60" width="21.20" height="3.40" rx="1.60" fill="rgb(8,8,8)" filter="url(#b05)"/>
<rect x="103.70" y="510.10" width="137.60" height="27.70" fill="none" stroke="#1a1a1a" stroke-width="1.3"/>
<text x="244.40" y="489.30" font-size="8.2" textLength="26.7" lengthAdjust="spacingAndGlyphs" stroke="#2b2b2b" stroke-width="0.12">pSTAT5</text>
<text x="244.40" y="526.30" font-size="8.2" textLength="27.5" lengthAdjust="spacingAndGlyphs" stroke="#2b2b2b" stroke-width="0.12">GAPDH</text>
<line x1="138.10" y1="542.40" x2="178.50" y2="542.40" stroke="#2a2a2a" stroke-width="1.0"/>
<line x1="184.10" y1="542.40" x2="224.50" y2="542.40" stroke="#2a2a2a" stroke-width="1.0"/>
<text x="134.40" y="553.20" font-size="9.0" textLength="44.1" lengthAdjust="spacingAndGlyphs" stroke="#2b2b2b" stroke-width="0.12">Co-treatment</text>
<text x="182.90" y="553.20" font-size="9.0" textLength="47.1" lengthAdjust="spacingAndGlyphs" stroke="#2b2b2b" stroke-width="0.12">Pre-incubation</text>
<text x="283.80" y="433.00" font-size="11.2" font-weight="bold" fill="#111" stroke="#111" stroke-width="0.35">H</text>
<text x="355.60" y="456.90" font-size="7.7" textLength="53.2" lengthAdjust="spacingAndGlyphs" stroke="#2b2b2b" stroke-width="0.12">EPO-0.03 U/ml</text>
<text x="413.30" y="456.60" font-size="7.7" textLength="48.0" lengthAdjust="spacingAndGlyphs" stroke="#2b2b2b" stroke-width="0.12">EPO-0.3 U/ml</text>
<text x="468.80" y="456.60" font-size="7.7" textLength="42.5" lengthAdjust="spacingAndGlyphs" stroke="#2b2b2b" stroke-width="0.12">EPO-3 U/ml</text>
<line x1="360.80" y1="461.30" x2="408.70" y2="461.30" stroke="#2a2a2a" stroke-width="1.0"/>
<line x1="415.00" y1="461.30" x2="458.80" y2="461.30" stroke="#2a2a2a" stroke-width="1.0"/>
<line x1="468.80" y1="461.30" x2="511.30" y2="461.30" stroke="#2a2a2a" stroke-width="1.0"/>
<text x="283.80" y="471.00" font-size="8.0" textLength="57.4" lengthAdjust="spacingAndGlyphs" stroke="#2b2b2b" stroke-width="0.12">HMGB1 (ug/mll)</text>
<text x="349.60" y="471.20" font-size="7.9" text-anchor="middle" stroke="#2b2b2b" stroke-width="0.12">0</text>
<text x="362.10" y="471.20" font-size="7.9" text-anchor="middle" stroke="#2b2b2b" stroke-width="0.12">0</text>
<text x="374.90" y="471.20" font-size="7.9" text-anchor="middle" stroke="#2b2b2b" stroke-width="0.12">1</text>
<text x="387.50" y="471.20" font-size="7.9" text-anchor="middle" stroke="#2b2b2b" stroke-width="0.12">3</text>
<text x="400.00" y="471.20" font-size="7.9" text-anchor="middle" stroke="#2b2b2b" stroke-width="0.12">10</text>
<text x="417.00" y="471.20" font-size="7.9" text-anchor="middle" stroke="#2b2b2b" stroke-width="0.12">0</text>
<text x="430.00" y="471.20" font-size="7.9" text-anchor="middle" stroke="#2b2b2b" stroke-width="0.12">1</text>
<text x="442.20" y="471.20" font-size="7.9" text-anchor="middle" stroke="#2b2b2b" stroke-width="0.12">3</text>
<text x="455.50" y="471.20" font-size="7.9" text-anchor="middle" stroke="#2b2b2b" stroke-width="0.12">10</text>
<text x="470.50" y="471.20" font-size="7.9" text-anchor="middle" stroke="#2b2b2b" stroke-width="0.12">0</text>
<text x="482.00" y="471.20" font-size="7.9" text-anchor="middle" stroke="#2b2b2b" stroke-width="0.12">1</text>
<text x="494.50" y="471.20" font-size="7.9" text-anchor="middle" stroke="#2b2b2b" stroke-width="0.12">3</text>
<text x="506.30" y="471.20" font-size="7.9" text-anchor="middle" stroke="#2b2b2b" stroke-width="0.12">10</text>
<rect x="344.00" y="477.20" width="169.00" height="15.40" fill="#fbfbfb"/>
<rect x="346.50" y="485.30" width="10.20" height="4.60" rx="1.60" fill="rgb(252,252,252)" filter="url(#b2)"/>
<rect x="346.80" y="485.80" width="9.60" height="3.00" rx="1.50" fill="rgb(247,247,247)" filter="url(#b1)"/>
<rect x="359.45" y="485.30" width="10.20" height="4.60" rx="1.60" fill="rgb(252,252,252)" filter="url(#b2)"/>
<rect x="359.75" y="485.80" width="9.60" height="3.00" rx="1.50" fill="rgb(247,247,247)" filter="url(#b1)"/>
<rect x="372.40" y="485.30" width="10.20" height="4.60" rx="1.60" fill="rgb(252,252,252)" filter="url(#b2)"/>
<rect x="372.70" y="485.80" width="9.60" height="3.00" rx="1.50" fill="rgb(247,247,247)" filter="url(#b1)"/>
<rect x="385.35" y="485.30" width="10.20" height="4.60" rx="1.60" fill="rgb(252,252,252)" filter="url(#b2)"/>
<rect x="385.65" y="485.80" width="9.60" height="3.00" rx="1.50" fill="rgb(247,247,247)" filter="url(#b1)"/>
<rect x="398.30" y="485.30" width="10.20" height="4.60" rx="1.60" fill="rgb(252,252,252)" filter="url(#b2)"/>
<rect x="398.60" y="485.80" width="9.60" height="3.00" rx="1.50" fill="rgb(247,247,247)" filter="url(#b1)"/>
<rect x="411.25" y="485.30" width="10.20" height="4.60" rx="1.60" fill="rgb(175,175,175)" filter="url(#b2)"/>
<rect x="411.55" y="485.80" width="9.60" height="3.00" rx="1.50" fill="rgb(48,48,48)" filter="url(#b1)"/>
<rect x="424.20" y="485.30" width="10.20" height="4.60" rx="1.60" fill="rgb(209,209,209)" filter="url(#b2)"/>
<rect x="424.50" y="485.80" width="9.60" height="3.00" rx="1.50" fill="rgb(136,136,136)" filter="url(#b1)"/>
<rect x="437.15" y="485.30" width="10.20" height="4.60" rx="1.60" fill="rgb(194,194,194)" filter="url(#b2)"/>
<rect x="437.45" y="485.80" width="9.60" height="3.00" rx="1.50" fill="rgb(96,96,96)" filter="url(#b1)"/>
<rect x="450.10" y="485.30" width="10.20" height="4.60" rx="1.60" fill="rgb(230,230,230)" filter="url(#b2)"/>
<rect x="450.40" y="485.80" width="9.60" height="3.00" rx="1.50" fill="rgb(189,189,189)" filter="url(#b1)"/>
<rect x="463.05" y="483.80" width="10.20" height="6.00" rx="1.60" fill="rgb(153,153,153)" filter="url(#b2)"/>
<rect x="463.35" y="484.30" width="9.60" height="4.40" rx="1.60" fill="rgb(0,0,0)" filter="url(#b1)"/>
<rect x="476.00" y="483.50" width="10.20" height="5.60" rx="1.60" fill="rgb(153,153,153)" filter="url(#b2)"/>
<rect x="476.30" y="484.00" width="9.60" height="4.00" rx="1.60" fill="rgb(0,0,0)" filter="url(#b1)"/>
<rect x="488.95" y="483.40" width="10.20" height="4.40" rx="1.60" fill="rgb(175,175,175)" filter="url(#b2)"/>
<rect x="489.25" y="483.90" width="9.60" height="2.80" rx="1.40" fill="rgb(48,48,48)" filter="url(#b1)"/>
<rect x="501.90" y="482.90" width="10.20" height="4.20" rx="1.60" fill="rgb(186,186,186)" filter="url(#b2)"/>
<rect x="502.20" y="483.40" width="9.60" height="2.60" rx="1.30" fill="rgb(75,75,75)" filter="url(#b1)"/>
<rect x="344.00" y="477.20" width="169.00" height="15.40" fill="none" stroke="#1a1a1a" stroke-width="1.3"/>
<text x="341.40" y="487.40" font-size="8.4" text-anchor="end" textLength="23.2" lengthAdjust="spacingAndGlyphs" stroke="#2b2b2b" stroke-width="0.12">pStat5</text>
<rect x="344.00" y="495.80" width="169.00" height="15.50" fill="#ededed"/>
<rect x="344.00" y="506.80" width="169.00" height="4.50" fill="#f8f8f8"/>
<rect x="346.20" y="502.40" width="10.20" height="5.60" rx="1.60" fill="rgb(173,173,173)" filter="url(#b2)"/>
<rect x="346.50" y="502.90" width="9.60" height="4.00" rx="1.60" fill="rgb(43,43,43)" filter="url(#b1)"/>
<rect x="359.15" y="502.50" width="10.20" height="5.60" rx="1.60" fill="rgb(171,171,171)" filter="url(#b2)"/>
<rect x="359.45" y="503.00" width="9.60" height="4.00" rx="1.60" fill="rgb(38,38,38)" filter="url(#b1)"/>
<rect x="372.10" y="502.60" width="10.20" height="5.60" rx="1.60" fill="rgb(167,167,167)" filter="url(#b2)"/>
<rect x="372.40" y="503.10" width="9.60" height="4.00" rx="1.60" fill="rgb(27,27,27)" filter="url(#b1)"/>
<rect x="385.05" y="502.80" width="10.20" height="5.60" rx="1.60" fill="rgb(160,160,160)" filter="url(#b2)"/>
<rect x="385.35" y="503.30" width="9.60" height="4.00" rx="1.60" fill="rgb(8,8,8)" filter="url(#b1)"/>
<rect x="398.00" y="503.00" width="10.20" height="5.60" rx="1.60" fill="rgb(158,158,158)" filter="url(#b2)"/>
<rect x="398.30" y="503.50" width="9.60" height="4.00" rx="1.60" fill="rgb(3,3,3)" filter="url(#b1)"/>
<rect x="410.95" y="503.10" width="10.20" height="5.60" rx="1.60" fill="rgb(158,158,158)" filter="url(#b2)"/>
<rect x="411.25" y="503.60" width="9.60" height="4.00" rx="1.60" fill="rgb(3,3,3)" filter="url(#b1)"/>
<rect x="423.90" y="503.20" width="10.20" height="5.60" rx="1.60" fill="rgb(165,165,165)" filter="url(#b2)"/>
<rect x="424.20" y="503.70" width="9.60" height="4.00" rx="1.60" fill="rgb(22,22,22)" filter="url(#b1)"/>
<rect x="436.85" y="503.10" width="10.20" height="5.60" rx="1.60" fill="rgb(160,160,160)" filter="url(#b2)"/>
<rect x="437.15" y="503.60" width="9.60" height="4.00" rx="1.60" fill="rgb(8,8,8)" filter="url(#b1)"/>
<rect x="449.80" y="503.00" width="10.20" height="5.60" rx="1.60" fill="rgb(169,169,169)" filter="url(#b2)"/>
<rect x="450.10" y="503.50" width="9.60" height="4.00" rx="1.60" fill="rgb(32,32,32)" filter="url(#b1)"/>
<rect x="462.75" y="502.70" width="10.20" height="5.60" rx="1.60" fill="rgb(161,161,161)" filter="url(#b2)"/>
<rect x="463.05" y="503.20" width="9.60" height="4.00" rx="1.60" fill="rgb(11,11,11)" filter="url(#b1)"/>
<rect x="475.70" y="502.50" width="10.20" height="5.60" rx="1.60" fill="rgb(160,160,160)" filter="url(#b2)"/>
<rect x="476.00" y="503.00" width="9.60" height="4.00" rx="1.60" fill="rgb(8,8,8)" filter="url(#b1)"/>
<rect x="488.65" y="502.40" width="10.20" height="5.60" rx="1.60" fill="rgb(161,161,161)" filter="url(#b2)"/>
<rect x="488.95" y="502.90" width="9.60" height="4.00" rx="1.60" fill="rgb(11,11,11)" filter="url(#b1)"/>
<rect x="501.60" y="502.30" width="10.20" height="5.60" rx="1.60" fill="rgb(159,159,159)" filter="url(#b2)"/>
<rect x="501.90" y="502.80" width="9.60" height="4.00" rx="1.60" fill="rgb(6,6,6)" filter="url(#b1)"/>
<rect x="344.00" y="495.80" width="169.00" height="15.50" fill="none" stroke="#1a1a1a" stroke-width="1.3"/>
<text x="341.40" y="506.10" font-size="8.4" text-anchor="end" textLength="18.6" lengthAdjust="spacingAndGlyphs" stroke="#2b2b2b" stroke-width="0.12">Stat5</text>
<rect x="344.00" y="514.30" width="169.00" height="14.90" fill="#f4f4f4"/>
<rect x="344.90" y="519.20" width="10.20" height="5.20" rx="1.60" fill="rgb(182,182,182)" filter="url(#b2)"/>
<rect x="345.20" y="519.70" width="9.60" height="3.60" rx="1.60" fill="rgb(64,64,64)" filter="url(#b1)"/>
<rect x="357.85" y="519.40" width="10.20" height="5.20" rx="1.60" fill="rgb(182,182,182)" filter="url(#b2)"/>
<rect x="358.15" y="519.90" width="9.60" height="3.60" rx="1.60" fill="rgb(64,64,64)" filter="url(#b1)"/>
<rect x="370.80" y="520.10" width="10.20" height="5.20" rx="1.60" fill="rgb(173,173,173)" filter="url(#b2)"/>
<rect x="371.10" y="520.60" width="9.60" height="3.60" rx="1.60" fill="rgb(43,43,43)" filter="url(#b1)"/>
<rect x="383.75" y="520.70" width="10.20" height="4.80" rx="1.60" fill="rgb(219,219,219)" filter="url(#b2)"/>
<rect x="384.05" y="521.20" width="9.60" height="3.20" rx="1.60" fill="rgb(162,162,162)" filter="url(#b1)"/>
<rect x="396.70" y="520.60" width="10.20" height="4.60" rx="1.60" fill="rgb(230,230,230)" filter="url(#b2)"/>
<rect x="397.00" y="521.10" width="9.60" height="3.00" rx="1.50" fill="rgb(189,189,189)" filter="url(#b1)"/>
<rect x="409.65" y="519.60" width="10.20" height="6.20" rx="1.60" fill="rgb(153,153,153)" filter="url(#b2)"/>
<rect x="409.95" y="520.10" width="9.60" height="4.60" rx="1.60" fill="rgb(0,0,0)" filter="url(#b1)"/>
<rect x="422.60" y="519.80" width="10.20" height="5.80" rx="1.60" fill="rgb(156,156,156)" filter="url(#b2)"/>
<rect x="422.90" y="520.30" width="9.60" height="4.20" rx="1.60" fill="rgb(0,0,0)" filter="url(#b1)"/>
<rect x="435.55" y="520.10" width="10.20" height="5.20" rx="1.60" fill="rgb(188,188,188)" filter="url(#b2)"/>
<rect x="435.85" y="520.60" width="9.60" height="3.60" rx="1.60" fill="rgb(80,80,80)" filter="url(#b1)"/>
<rect x="448.50" y="520.30" width="10.20" height="4.80" rx="1.60" fill="rgb(219,219,219)" filter="url(#b2)"/>
<rect x="448.80" y="520.80" width="9.60" height="3.20" rx="1.60" fill="rgb(162,162,162)" filter="url(#b1)"/>
<rect x="461.45" y="519.10" width="10.20" height="6.60" rx="1.60" fill="rgb(153,153,153)" filter="url(#b2)"/>
<rect x="461.75" y="519.60" width="9.60" height="5.00" rx="1.60" fill="rgb(0,0,0)" filter="url(#b1)"/>
<rect x="474.40" y="519.40" width="10.20" height="6.00" rx="1.60" fill="rgb(157,157,157)" filter="url(#b2)"/>
<rect x="474.70" y="519.90" width="9.60" height="4.40" rx="1.60" fill="rgb(0,0,0)" filter="url(#b1)"/>
<rect x="487.35" y="519.60" width="10.20" height="5.60" rx="1.60" fill="rgb(165,165,165)" filter="url(#b2)"/>
<rect x="487.65" y="520.10" width="9.60" height="4.00" rx="1.60" fill="rgb(22,22,22)" filter="url(#b1)"/>
<rect x="500.30" y="520.00" width="10.20" height="4.80" rx="1.60" fill="rgb(214,214,214)" filter="url(#b2)"/>
<rect x="500.60" y="520.50" width="9.60" height="3.20" rx="1.60" fill="rgb(149,149,149)" filter="url(#b1)"/>
<rect x="344.00" y="514.30" width="169.00" height="14.90" fill="none" stroke="#1a1a1a" stroke-width="1.3"/>
<text x="341.40" y="524.00" font-size="8.4" text-anchor="end" textLength="13.4" lengthAdjust="spacingAndGlyphs" stroke="#2b2b2b" stroke-width="0.12">pS6</text>
<rect x="344.00" y="532.30" width="169.00" height="15.60" fill="#f2f2f2"/>
<rect x="345.90" y="535.80" width="10.20" height="5.60" rx="1.60" fill="rgb(158,158,158)" filter="url(#b2)"/>
<rect x="346.20" y="536.30" width="9.60" height="4.00" rx="1.60" fill="rgb(3,3,3)" filter="url(#b1)"/>
<rect x="358.85" y="536.30" width="10.20" height="5.60" rx="1.60" fill="rgb(158,158,158)" filter="url(#b2)"/>
<rect x="359.15" y="536.80" width="9.60" height="4.00" rx="1.60" fill="rgb(3,3,3)" filter="url(#b1)"/>
<rect x="371.80" y="536.70" width="10.20" height="5.60" rx="1.60" fill="rgb(161,161,161)" filter="url(#b2)"/>
<rect x="372.10" y="537.20" width="9.60" height="4.00" rx="1.60" fill="rgb(11,11,11)" filter="url(#b1)"/>
<rect x="384.75" y="537.10" width="10.20" height="5.60" rx="1.60" fill="rgb(167,167,167)" filter="url(#b2)"/>
<rect x="385.05" y="537.60" width="9.60" height="4.00" rx="1.60" fill="rgb(27,27,27)" filter="url(#b1)"/>
<rect x="397.70" y="537.50" width="10.20" height="5.60" rx="1.60" fill="rgb(158,158,158)" filter="url(#b2)"/>
<rect x="398.00" y="538.00" width="9.60" height="4.00" rx="1.60" fill="rgb(3,3,3)" filter="url(#b1)"/>
<rect x="410.65" y="537.80" width="10.20" height="5.60" rx="1.60" fill="rgb(194,194,194)" filter="url(#b2)"/>
<rect x="410.95" y="538.30" width="9.60" height="4.00" rx="1.60" fill="rgb(96,96,96)" filter="url(#b1)"/>
<rect x="423.60" y="537.80" width="10.20" height="5.60" rx="1.60" fill="rgb(158,158,158)" filter="url(#b2)"/>
<rect x="423.90" y="538.30" width="9.60" height="4.00" rx="1.60" fill="rgb(3,3,3)" filter="url(#b1)"/>
<rect x="436.55" y="537.80" width="10.20" height="5.60" rx="1.60" fill="rgb(165,165,165)" filter="url(#b2)"/>
<rect x="436.85" y="538.30" width="9.60" height="4.00" rx="1.60" fill="rgb(22,22,22)" filter="url(#b1)"/>
<rect x="449.50" y="537.80" width="10.20" height="5.60" rx="1.60" fill="rgb(171,171,171)" filter="url(#b2)"/>
<rect x="449.80" y="538.30" width="9.60" height="4.00" rx="1.60" fill="rgb(38,38,38)" filter="url(#b1)"/>
<rect x="462.45" y="537.90" width="10.20" height="5.60" rx="1.60" fill="rgb(160,160,160)" filter="url(#b2)"/>
<rect x="462.75" y="538.40" width="9.60" height="4.00" rx="1.60" fill="rgb(8,8,8)" filter="url(#b1)"/>
<rect x="475.40" y="538.00" width="10.20" height="5.60" rx="1.60" fill="rgb(194,194,194)" filter="url(#b2)"/>
<rect x="475.70" y="538.50" width="9.60" height="4.00" rx="1.60" fill="rgb(96,96,96)" filter="url(#b1)"/>
<rect x="488.35" y="538.00" width="10.20" height="5.60" rx="1.60" fill="rgb(161,161,161)" filter="url(#b2)"/>
<rect x="488.65" y="538.50" width="9.60" height="4.00" rx="1.60" fill="rgb(11,11,11)" filter="url(#b1)"/>
<rect x="501.30" y="538.00" width="10.20" height="5.60" rx="1.60" fill="rgb(224,224,224)" filter="url(#b2)"/>
<rect x="501.60" y="538.50" width="9.60" height="4.00" rx="1.60" fill="rgb(175,175,175)" filter="url(#b1)"/>
<rect x="344.00" y="532.30" width="169.00" height="15.60" fill="none" stroke="#1a1a1a" stroke-width="1.3"/>
<text x="341.40" y="542.30" font-size="8.4" text-anchor="end" textLength="8.6" lengthAdjust="spacingAndGlyphs" stroke="#2b2b2b" stroke-width="0.12">S6</text>
<text x="7.60" y="573.70" font-size="11.2" font-weight="bold" fill="#111" stroke="#111" stroke-width="0.35">I</text>
<rect x="37.70" y="626.70" width="8.00" height="27.80" fill="#da6a7e"/>
<rect x="49.65" y="630.04" width="8.00" height="24.46" fill="#e8a0ad"/>
<rect x="61.60" y="628.09" width="8.00" height="26.41" fill="#f1c2ca"/>
<rect x="73.55" y="625.31" width="8.00" height="29.19" fill="#f8dfe3"/>
<rect x="37.90" y="625.50" width="7.6" height="2.3" rx="1.1" fill="#c8102e"/>
<line x1="34.30" y1="596.20" x2="34.30" y2="655.00" stroke="#1a1a1a" stroke-width="1.2"/>
<line x1="31.10" y1="654.50" x2="34.30" y2="654.50" stroke="#1a1a1a" stroke-width="1.1"/>
<text x="28.70" y="657.20" font-size="7.6" text-anchor="end" textLength="10.0" lengthAdjust="spacingAndGlyphs" stroke="#2b2b2b" stroke-width="0.12">0.0</text>
<line x1="31.10" y1="640.60" x2="34.30" y2="640.60" stroke="#1a1a1a" stroke-width="1.1"/>
<text x="28.70" y="643.30" font-size="7.6" text-anchor="end" textLength="10.0" lengthAdjust="spacingAndGlyphs" stroke="#2b2b2b" stroke-width="0.12">0.5</text>
<line x1="31.10" y1="626.70" x2="34.30" y2="626.70" stroke="#1a1a1a" stroke-width="1.1"/>
<text x="28.70" y="629.40" font-size="7.6" text-anchor="end" textLength="10.0" lengthAdjust="spacingAndGlyphs" stroke="#2b2b2b" stroke-width="0.12">1.0</text>
<line x1="31.10" y1="612.80" x2="34.30" y2="612.80" stroke="#1a1a1a" stroke-width="1.1"/>
<text x="28.70" y="615.50" font-size="7.6" text-anchor="end" textLength="10.0" lengthAdjust="spacingAndGlyphs" stroke="#2b2b2b" stroke-width="0.12">1.5</text>
<line x1="31.10" y1="598.90" x2="34.30" y2="598.90" stroke="#1a1a1a" stroke-width="1.1"/>
<text x="28.70" y="601.60" font-size="7.6" text-anchor="end" textLength="10.0" lengthAdjust="spacingAndGlyphs" stroke="#2b2b2b" stroke-width="0.12">2.0</text>
<line x1="33.70" y1="654.50" x2="86.30" y2="654.50" stroke="#1a1a1a" stroke-width="1.2"/>
<line x1="59.50" y1="654.50" x2="59.50" y2="656.70" stroke="#1a1a1a" stroke-width="0.8"/>
<text x="12.30" y="626.90" font-size="7.6" text-anchor="middle" textLength="34" lengthAdjust="spacingAndGlyphs" transform="rotate(-90 12.30 626.90)" stroke="#2b2b2b" stroke-width="0.12">pSTAT5/STAT5</text>
<circle cx="53.75" cy="618.20" r="1.3" fill="#c8102e"/>
<circle cx="53.75" cy="626.10" r="1.3" fill="#c8102e"/>
<circle cx="50.50" cy="638.00" r="1.3" fill="#c8102e"/>
<circle cx="56.60" cy="636.80" r="1.3" fill="#c8102e"/>
<circle cx="53.75" cy="630.50" r="1.3" fill="#c8102e"/>
<circle cx="65.60" cy="615.50" r="1.3" fill="#c8102e"/>
<circle cx="65.60" cy="619.80" r="1.3" fill="#c8102e"/>
<circle cx="62.50" cy="631.60" r="1.3" fill="#c8102e"/>
<circle cx="68.90" cy="632.60" r="1.3" fill="#c8102e"/>
<circle cx="65.60" cy="638.60" r="1.3" fill="#c8102e"/>
<circle cx="77.50" cy="608.75" r="1.3" fill="#c8102e"/>
<circle cx="74.40" cy="621.50" r="1.3" fill="#c8102e"/>
<circle cx="80.70" cy="621.00" r="1.3" fill="#c8102e"/>
<circle cx="77.70" cy="629.80" r="1.3" fill="#c8102e"/>
<circle cx="77.70" cy="640.80" r="1.3" fill="#c8102e"/>
<line x1="53.65" y1="625.60" x2="53.65" y2="633.50" stroke="#1a1a1a" stroke-width="0.9"/>
<line x1="51.75" y1="625.60" x2="55.55" y2="625.60" stroke="#1a1a1a" stroke-width="0.9"/>
<line x1="51.75" y1="633.50" x2="55.55" y2="633.50" stroke="#1a1a1a" stroke-width="0.9"/>
<line x1="65.60" y1="623.20" x2="65.60" y2="632.60" stroke="#1a1a1a" stroke-width="0.9"/>
<line x1="63.70" y1="623.20" x2="67.50" y2="623.20" stroke="#1a1a1a" stroke-width="0.9"/>
<line x1="63.70" y1="632.60" x2="67.50" y2="632.60" stroke="#1a1a1a" stroke-width="0.9"/>
<line x1="77.55" y1="619.30" x2="77.55" y2="630.70" stroke="#1a1a1a" stroke-width="0.9"/>
<line x1="75.65" y1="619.30" x2="79.45" y2="619.30" stroke="#1a1a1a" stroke-width="0.9"/>
<line x1="75.65" y1="630.70" x2="79.45" y2="630.70" stroke="#1a1a1a" stroke-width="0.9"/>
<path d="M41.70,623.70 L41.70,601.70 L53.65,601.70 L53.65,614.50" fill="none" stroke="#2a2a2a" stroke-width="0.95" stroke-linejoin="round" stroke-linecap="round"/>
<text x="47.67" y="599.50" font-size="7.2" text-anchor="middle" textLength="7.3" lengthAdjust="spacingAndGlyphs" stroke="#2b2b2b" stroke-width="0.12">ns</text>
<path d="M41.70,598.10 L41.70,590.50 L65.60,590.50 L65.60,612.60" fill="none" stroke="#2a2a2a" stroke-width="0.95" stroke-linejoin="round" stroke-linecap="round"/>
<text x="53.65" y="588.30" font-size="7.2" text-anchor="middle" textLength="7.3" lengthAdjust="spacingAndGlyphs" stroke="#2b2b2b" stroke-width="0.12">ns</text>
<path d="M41.70,586.90 L41.70,577.30 L77.55,577.30 L77.55,604.40" fill="none" stroke="#2a2a2a" stroke-width="0.95" stroke-linejoin="round" stroke-linecap="round"/>
<text x="59.62" y="575.10" font-size="7.2" text-anchor="middle" textLength="7.3" lengthAdjust="spacingAndGlyphs" stroke="#2b2b2b" stroke-width="0.12">ns</text>
<text x="33.70" y="666.50" font-size="6.4" text-anchor="end" textLength="21.9" lengthAdjust="spacingAndGlyphs" stroke="#2b2b2b" stroke-width="0.12">HMGB1</text>
<text x="41.70" y="666.80" font-size="7.8" text-anchor="middle" stroke="#2b2b2b" stroke-width="0.12">0</text>
<text x="53.65" y="666.80" font-size="7.8" text-anchor="middle" stroke="#2b2b2b" stroke-width="0.12">1</text>
<text x="65.60" y="666.80" font-size="7.8" text-anchor="middle" stroke="#2b2b2b" stroke-width="0.12">3</text>
<text x="77.55" y="666.80" font-size="7.8" text-anchor="middle" stroke="#2b2b2b" stroke-width="0.12">10</text>
<line x1="40.70" y1="670.40" x2="83.95" y2="670.40" stroke="#2a2a2a" stroke-width="1.0"/>
<text x="62.22" y="678.00" font-size="6.4" text-anchor="middle" textLength="38.4" lengthAdjust="spacingAndGlyphs" stroke="#2b2b2b" stroke-width="0.12">EPO-0.03 U/ml</text>
<rect x="123.12" y="617.40" width="8.00" height="37.10" fill="#da6a7e"/>
<rect x="135.07" y="627.42" width="8.00" height="27.08" fill="#e8a0ad"/>
<rect x="147.02" y="630.76" width="8.00" height="23.74" fill="#f1c2ca"/>
<rect x="158.97" y="632.24" width="8.00" height="22.26" fill="#f8dfe3"/>
<rect x="123.32" y="616.20" width="7.6" height="2.3" rx="1.1" fill="#c8102e"/>
<line x1="119.72" y1="594.80" x2="119.72" y2="655.00" stroke="#1a1a1a" stroke-width="1.2"/>
<line x1="116.52" y1="654.50" x2="119.72" y2="654.50" stroke="#1a1a1a" stroke-width="1.1"/>
<text x="114.12" y="657.20" font-size="7.6" text-anchor="end" textLength="10.0" lengthAdjust="spacingAndGlyphs" stroke="#2b2b2b" stroke-width="0.12">0.0</text>
<line x1="116.52" y1="635.95" x2="119.72" y2="635.95" stroke="#1a1a1a" stroke-width="1.1"/>
<text x="114.12" y="638.65" font-size="7.6" text-anchor="end" textLength="10.0" lengthAdjust="spacingAndGlyphs" stroke="#2b2b2b" stroke-width="0.12">0.5</text>
<line x1="116.52" y1="617.40" x2="119.72" y2="617.40" stroke="#1a1a1a" stroke-width="1.1"/>
<text x="114.12" y="620.10" font-size="7.6" text-anchor="end" textLength="10.0" lengthAdjust="spacingAndGlyphs" stroke="#2b2b2b" stroke-width="0.12">1.0</text>
<line x1="116.52" y1="598.85" x2="119.72" y2="598.85" stroke="#1a1a1a" stroke-width="1.1"/>
<text x="114.12" y="601.55" font-size="7.6" text-anchor="end" textLength="10.0" lengthAdjust="spacingAndGlyphs" stroke="#2b2b2b" stroke-width="0.12">1.5</text>
<line x1="119.12" y1="654.50" x2="171.72" y2="654.50" stroke="#1a1a1a" stroke-width="1.2"/>
<line x1="144.92" y1="654.50" x2="144.92" y2="656.70" stroke="#1a1a1a" stroke-width="0.8"/>
<text x="97.72" y="626.90" font-size="7.6" text-anchor="middle" textLength="34" lengthAdjust="spacingAndGlyphs" transform="rotate(-90 97.72 626.90)" stroke="#2b2b2b" stroke-width="0.12">pSTAT5/STAT5</text>
<circle cx="139.02" cy="615.50" r="1.3" fill="#c8102e"/>
<circle cx="139.02" cy="623.40" r="1.3" fill="#c8102e"/>
<circle cx="136.22" cy="629.80" r="1.3" fill="#c8102e"/>
<circle cx="141.72" cy="630.20" r="1.3" fill="#c8102e"/>
<circle cx="139.02" cy="636.20" r="1.3" fill="#c8102e"/>
<circle cx="150.92" cy="619.70" r="1.3" fill="#c8102e"/>
<circle cx="150.92" cy="627.00" r="1.3" fill="#c8102e"/>
<circle cx="148.22" cy="636.20" r="1.3" fill="#c8102e"/>
<circle cx="153.72" cy="636.20" r="1.3" fill="#c8102e"/>
<circle cx="150.92" cy="631.00" r="1.3" fill="#c8102e"/>
<circle cx="162.92" cy="619.70" r="1.3" fill="#c8102e"/>
<circle cx="162.92" cy="624.30" r="1.3" fill="#c8102e"/>
<circle cx="162.92" cy="634.40" r="1.3" fill="#c8102e"/>
<circle cx="162.92" cy="638.00" r="1.3" fill="#c8102e"/>
<circle cx="162.92" cy="641.70" r="1.3" fill="#c8102e"/>
<line x1="139.07" y1="623.40" x2="139.07" y2="630.70" stroke="#1a1a1a" stroke-width="0.9"/>
<line x1="137.17" y1="623.40" x2="140.97" y2="623.40" stroke="#1a1a1a" stroke-width="0.9"/>
<line x1="137.17" y1="630.70" x2="140.97" y2="630.70" stroke="#1a1a1a" stroke-width="0.9"/>
<line x1="151.02" y1="627.00" x2="151.02" y2="631.60" stroke="#1a1a1a" stroke-width="0.9"/>
<line x1="149.12" y1="627.00" x2="152.92" y2="627.00" stroke="#1a1a1a" stroke-width="0.9"/>
<line x1="149.12" y1="631.60" x2="152.92" y2="631.60" stroke="#1a1a1a" stroke-width="0.9"/>
<line x1="162.97" y1="628.00" x2="162.97" y2="636.20" stroke="#1a1a1a" stroke-width="0.9"/>
<line x1="161.07" y1="628.00" x2="164.87" y2="628.00" stroke="#1a1a1a" stroke-width="0.9"/>
<line x1="161.07" y1="636.20" x2="164.87" y2="636.20" stroke="#1a1a1a" stroke-width="0.9"/>
<path d="M127.12,614.40 L127.12,608.90 L139.07,608.90 L139.07,612.30" fill="none" stroke="#2a2a2a" stroke-width="0.95" stroke-linejoin="round" stroke-linecap="round"/>
<text x="133.09" y="606.70" font-size="7.2" text-anchor="middle" textLength="7.3" lengthAdjust="spacingAndGlyphs" stroke="#2b2b2b" stroke-width="0.12">ns</text>
<path d="M127.12,605.30 L127.12,597.20 L151.02,597.20 L151.02,616.60" fill="none" stroke="#2a2a2a" stroke-width="0.95" stroke-linejoin="round" stroke-linecap="round"/>
<circle cx="139.07" cy="593.30" r="1.22" fill="#1e1e1e"/>
<path d="M127.12,593.60 L127.12,585.40 L162.97,585.40 L162.97,617.10" fill="none" stroke="#2a2a2a" stroke-width="0.95" stroke-linejoin="round" stroke-linecap="round"/>
<circle cx="145.05" cy="581.50" r="1.22" fill="#1e1e1e"/>
<text x="119.12" y="666.50" font-size="6.4" text-anchor="end" textLength="21.9" lengthAdjust="spacingAndGlyphs" stroke="#2b2b2b" stroke-width="0.12">HMGB1</text>
<text x="127.12" y="666.80" font-size="7.8" text-anchor="middle" stroke="#2b2b2b" stroke-width="0.12">0</text>
<text x="139.07" y="666.80" font-size="7.8" text-anchor="middle" stroke="#2b2b2b" stroke-width="0.12">1</text>
<text x="151.02" y="666.80" font-size="7.8" text-anchor="middle" stroke="#2b2b2b" stroke-width="0.12">3</text>
<text x="162.97" y="666.80" font-size="7.8" text-anchor="middle" stroke="#2b2b2b" stroke-width="0.12">10</text>
<line x1="126.12" y1="670.40" x2="169.37" y2="670.40" stroke="#2a2a2a" stroke-width="1.0"/>
<text x="147.65" y="678.00" font-size="6.4" text-anchor="middle" textLength="34.0" lengthAdjust="spacingAndGlyphs" stroke="#2b2b2b" stroke-width="0.12">EPO-0.3 U/ml</text>
<rect x="208.54" y="617.40" width="8.00" height="37.10" fill="#da6a7e"/>
<rect x="220.49" y="621.11" width="8.00" height="33.39" fill="#e8a0ad"/>
<rect x="232.44" y="629.27" width="8.00" height="25.23" fill="#f1c2ca"/>
<rect x="244.39" y="631.13" width="8.00" height="23.37" fill="#f8dfe3"/>
<rect x="208.74" y="616.20" width="7.6" height="2.3" rx="1.1" fill="#c8102e"/>
<line x1="205.14" y1="594.80" x2="205.14" y2="655.00" stroke="#1a1a1a" stroke-width="1.2"/>
<line x1="201.94" y1="654.50" x2="205.14" y2="654.50" stroke="#1a1a1a" stroke-width="1.1"/>
<text x="199.54" y="657.20" font-size="7.6" text-anchor="end" textLength="10.0" lengthAdjust="spacingAndGlyphs" stroke="#2b2b2b" stroke-width="0.12">0.0</text>
<line x1="201.94" y1="635.95" x2="205.14" y2="635.95" stroke="#1a1a1a" stroke-width="1.1"/>
<text x="199.54" y="638.65" font-size="7.6" text-anchor="end" textLength="10.0" lengthAdjust="spacingAndGlyphs" stroke="#2b2b2b" stroke-width="0.12">0.5</text>
<line x1="201.94" y1="617.40" x2="205.14" y2="617.40" stroke="#1a1a1a" stroke-width="1.1"/>
<text x="199.54" y="620.10" font-size="7.6" text-anchor="end" textLength="10.0" lengthAdjust="spacingAndGlyphs" stroke="#2b2b2b" stroke-width="0.12">1.0</text>
<line x1="201.94" y1="598.85" x2="205.14" y2="598.85" stroke="#1a1a1a" stroke-width="1.1"/>
<text x="199.54" y="601.55" font-size="7.6" text-anchor="end" textLength="10.0" lengthAdjust="spacingAndGlyphs" stroke="#2b2b2b" stroke-width="0.12">1.5</text>
<line x1="204.54" y1="654.50" x2="257.14" y2="654.50" stroke="#1a1a1a" stroke-width="1.2"/>
<line x1="230.34" y1="654.50" x2="230.34" y2="656.70" stroke="#1a1a1a" stroke-width="0.8"/>
<text x="183.14" y="626.90" font-size="7.6" text-anchor="middle" textLength="34" lengthAdjust="spacingAndGlyphs" transform="rotate(-90 183.14 626.90)" stroke="#2b2b2b" stroke-width="0.12">pSTAT5/STAT5</text>
<circle cx="220.94" cy="616.00" r="1.3" fill="#c8102e"/>
<circle cx="227.64" cy="617.80" r="1.3" fill="#c8102e"/>
<circle cx="220.94" cy="621.60" r="1.3" fill="#c8102e"/>
<circle cx="227.64" cy="622.20" r="1.3" fill="#c8102e"/>
<circle cx="224.24" cy="628.80" r="1.3" fill="#c8102e"/>
<circle cx="236.29" cy="618.60" r="1.3" fill="#c8102e"/>
<circle cx="236.29" cy="623.10" r="1.3" fill="#c8102e"/>
<circle cx="236.29" cy="632.50" r="1.3" fill="#c8102e"/>
<circle cx="233.44" cy="635.00" r="1.3" fill="#c8102e"/>
<circle cx="238.94" cy="635.30" r="1.3" fill="#c8102e"/>
<circle cx="244.94" cy="626.70" r="1.3" fill="#c8102e"/>
<circle cx="251.64" cy="628.00" r="1.3" fill="#c8102e"/>
<circle cx="244.94" cy="630.40" r="1.3" fill="#c8102e"/>
<circle cx="251.64" cy="630.90" r="1.3" fill="#c8102e"/>
<circle cx="248.14" cy="639.90" r="1.3" fill="#c8102e"/>
<line x1="224.49" y1="619.50" x2="224.49" y2="623.40" stroke="#1a1a1a" stroke-width="0.9"/>
<line x1="222.59" y1="619.50" x2="226.39" y2="619.50" stroke="#1a1a1a" stroke-width="0.9"/>
<line x1="222.59" y1="623.40" x2="226.39" y2="623.40" stroke="#1a1a1a" stroke-width="0.9"/>
<line x1="236.44" y1="625.80" x2="236.44" y2="632.60" stroke="#1a1a1a" stroke-width="0.9"/>
<line x1="234.54" y1="625.80" x2="238.34" y2="625.80" stroke="#1a1a1a" stroke-width="0.9"/>
<line x1="234.54" y1="632.60" x2="238.34" y2="632.60" stroke="#1a1a1a" stroke-width="0.9"/>
<line x1="248.39" y1="628.20" x2="248.39" y2="633.00" stroke="#1a1a1a" stroke-width="0.9"/>
<line x1="246.49" y1="628.20" x2="250.29" y2="628.20" stroke="#1a1a1a" stroke-width="0.9"/>
<line x1="246.49" y1="633.00" x2="250.29" y2="633.00" stroke="#1a1a1a" stroke-width="0.9"/>
<path d="M212.54,614.40 L212.54,608.90 L224.49,608.90 L224.49,612.30" fill="none" stroke="#2a2a2a" stroke-width="0.95" stroke-linejoin="round" stroke-linecap="round"/>
<text x="218.51" y="606.70" font-size="7.2" text-anchor="middle" textLength="7.3" lengthAdjust="spacingAndGlyphs" stroke="#2b2b2b" stroke-width="0.12">ns</text>
<path d="M212.54,605.30 L212.54,597.20 L236.44,597.20 L236.44,614.70" fill="none" stroke="#2a2a2a" stroke-width="0.95" stroke-linejoin="round" stroke-linecap="round"/>
<circle cx="222.77" cy="593.30" r="1.22" fill="#1e1e1e"/>
<circle cx="226.22" cy="593.30" r="1.22" fill="#1e1e1e"/>
<path d="M212.54,593.60 L212.54,585.40 L248.39,585.40 L248.39,622.90" fill="none" stroke="#2a2a2a" stroke-width="0.95" stroke-linejoin="round" stroke-linecap="round"/>
<circle cx="228.74" cy="581.50" r="1.22" fill="#1e1e1e"/>
<circle cx="232.19" cy="581.50" r="1.22" fill="#1e1e1e"/>
<text x="204.54" y="666.50" font-size="6.4" text-anchor="end" textLength="21.9" lengthAdjust="spacingAndGlyphs" stroke="#2b2b2b" stroke-width="0.12">HMGB1</text>
<text x="212.54" y="666.80" font-size="7.8" text-anchor="middle" stroke="#2b2b2b" stroke-width="0.12">0</text>
<text x="224.49" y="666.80" font-size="7.8" text-anchor="middle" stroke="#2b2b2b" stroke-width="0.12">1</text>
<text x="236.44" y="666.80" font-size="7.8" text-anchor="middle" stroke="#2b2b2b" stroke-width="0.12">3</text>
<text x="248.39" y="666.80" font-size="7.8" text-anchor="middle" stroke="#2b2b2b" stroke-width="0.12">10</text>
<line x1="211.54" y1="670.40" x2="254.79" y2="670.40" stroke="#2a2a2a" stroke-width="1.0"/>
<text x="233.06" y="678.00" font-size="6.4" text-anchor="middle" textLength="29.5" lengthAdjust="spacingAndGlyphs" stroke="#2b2b2b" stroke-width="0.12">EPO-3 U/ml</text>
<rect x="293.96" y="617.40" width="8.00" height="37.10" fill="#da6a7e"/>
<rect x="305.91" y="618.51" width="8.00" height="35.99" fill="#e8a0ad"/>
<rect x="317.86" y="624.82" width="8.00" height="29.68" fill="#f1c2ca"/>
<rect x="329.81" y="640.40" width="8.00" height="14.10" fill="#f8dfe3"/>
<rect x="294.16" y="616.20" width="7.6" height="2.3" rx="1.1" fill="#c8102e"/>
<line x1="290.56" y1="594.80" x2="290.56" y2="655.00" stroke="#1a1a1a" stroke-width="1.2"/>
<line x1="287.36" y1="654.50" x2="290.56" y2="654.50" stroke="#1a1a1a" stroke-width="1.1"/>
<text x="284.96" y="657.20" font-size="7.6" text-anchor="end" textLength="10.0" lengthAdjust="spacingAndGlyphs" stroke="#2b2b2b" stroke-width="0.12">0.0</text>
<line x1="287.36" y1="635.95" x2="290.56" y2="635.95" stroke="#1a1a1a" stroke-width="1.1"/>
<text x="284.96" y="638.65" font-size="7.6" text-anchor="end" textLength="10.0" lengthAdjust="spacingAndGlyphs" stroke="#2b2b2b" stroke-width="0.12">0.5</text>
<line x1="287.36" y1="617.40" x2="290.56" y2="617.40" stroke="#1a1a1a" stroke-width="1.1"/>
<text x="284.96" y="620.10" font-size="7.6" text-anchor="end" textLength="10.0" lengthAdjust="spacingAndGlyphs" stroke="#2b2b2b" stroke-width="0.12">1.0</text>
<line x1="287.36" y1="598.85" x2="290.56" y2="598.85" stroke="#1a1a1a" stroke-width="1.1"/>
<text x="284.96" y="601.55" font-size="7.6" text-anchor="end" textLength="10.0" lengthAdjust="spacingAndGlyphs" stroke="#2b2b2b" stroke-width="0.12">1.5</text>
<line x1="289.96" y1="654.50" x2="342.56" y2="654.50" stroke="#1a1a1a" stroke-width="1.2"/>
<line x1="315.76" y1="654.50" x2="315.76" y2="656.70" stroke="#1a1a1a" stroke-width="0.8"/>
<text x="268.26" y="626.90" font-size="7.4" text-anchor="middle" textLength="18" lengthAdjust="spacingAndGlyphs" transform="rotate(-90 268.26 626.90)" stroke="#2b2b2b" stroke-width="0.12">pS6/S6</text>
<circle cx="309.96" cy="604.90" r="1.3" fill="#c8102e"/>
<circle cx="306.86" cy="619.40" r="1.3" fill="#c8102e"/>
<circle cx="312.66" cy="619.40" r="1.3" fill="#c8102e"/>
<circle cx="306.86" cy="627.00" r="1.3" fill="#c8102e"/>
<circle cx="312.66" cy="625.90" r="1.3" fill="#c8102e"/>
<circle cx="321.66" cy="610.70" r="1.3" fill="#c8102e"/>
<circle cx="318.86" cy="621.80" r="1.3" fill="#c8102e"/>
<circle cx="324.66" cy="621.80" r="1.3" fill="#c8102e"/>
<circle cx="321.66" cy="632.30" r="1.3" fill="#c8102e"/>
<circle cx="321.66" cy="635.80" r="1.3" fill="#c8102e"/>
<circle cx="334.06" cy="627.60" r="1.3" fill="#c8102e"/>
<circle cx="330.56" cy="637.90" r="1.3" fill="#c8102e"/>
<circle cx="336.86" cy="637.90" r="1.3" fill="#c8102e"/>
<circle cx="334.06" cy="646.00" r="1.3" fill="#c8102e"/>
<line x1="309.91" y1="615.70" x2="309.91" y2="622.90" stroke="#1a1a1a" stroke-width="0.9"/>
<line x1="308.01" y1="615.70" x2="311.81" y2="615.70" stroke="#1a1a1a" stroke-width="0.9"/>
<line x1="308.01" y1="622.90" x2="311.81" y2="622.90" stroke="#1a1a1a" stroke-width="0.9"/>
<line x1="321.86" y1="620.40" x2="321.86" y2="629.30" stroke="#1a1a1a" stroke-width="0.9"/>
<line x1="319.96" y1="620.40" x2="323.76" y2="620.40" stroke="#1a1a1a" stroke-width="0.9"/>
<line x1="319.96" y1="629.30" x2="323.76" y2="629.30" stroke="#1a1a1a" stroke-width="0.9"/>
<line x1="333.81" y1="635.30" x2="333.81" y2="640.80" stroke="#1a1a1a" stroke-width="0.9"/>
<line x1="331.91" y1="635.30" x2="335.71" y2="635.30" stroke="#1a1a1a" stroke-width="0.9"/>
<line x1="331.91" y1="640.80" x2="335.71" y2="640.80" stroke="#1a1a1a" stroke-width="0.9"/>
<path d="M297.96,614.40 L297.96,597.90 L309.91,597.90 L309.91,601.40" fill="none" stroke="#2a2a2a" stroke-width="0.95" stroke-linejoin="round" stroke-linecap="round"/>
<text x="303.93" y="595.70" font-size="7.2" text-anchor="middle" textLength="7.3" lengthAdjust="spacingAndGlyphs" stroke="#2b2b2b" stroke-width="0.12">ns</text>
<path d="M297.96,594.30 L297.96,585.60 L321.86,585.60 L321.86,606.60" fill="none" stroke="#2a2a2a" stroke-width="0.95" stroke-linejoin="round" stroke-linecap="round"/>
<text x="309.91" y="583.40" font-size="7.2" text-anchor="middle" textLength="7.3" lengthAdjust="spacingAndGlyphs" stroke="#2b2b2b" stroke-width="0.12">ns</text>
<path d="M297.96,582.00 L297.96,573.40 L333.81,573.40 L333.81,624.10" fill="none" stroke="#2a2a2a" stroke-width="0.95" stroke-linejoin="round" stroke-linecap="round"/>
<circle cx="314.16" cy="569.50" r="1.22" fill="#1e1e1e"/>
<circle cx="317.61" cy="569.50" r="1.22" fill="#1e1e1e"/>
<text x="289.96" y="666.50" font-size="6.4" text-anchor="end" textLength="21.9" lengthAdjust="spacingAndGlyphs" stroke="#2b2b2b" stroke-width="0.12">HMGB1</text>
<text x="297.96" y="666.80" font-size="7.8" text-anchor="middle" stroke="#2b2b2b" stroke-width="0.12">0</text>
<text x="309.91" y="666.80" font-size="7.8" text-anchor="middle" stroke="#2b2b2b" stroke-width="0.12">1</text>
<text x="321.86" y="666.80" font-size="7.8" text-anchor="middle" stroke="#2b2b2b" stroke-width="0.12">3</text>
<text x="333.81" y="666.80" font-size="7.8" text-anchor="middle" stroke="#2b2b2b" stroke-width="0.12">10</text>
<line x1="296.96" y1="670.40" x2="340.21" y2="670.40" stroke="#2a2a2a" stroke-width="1.0"/>
<text x="318.49" y="678.00" font-size="6.4" text-anchor="middle" textLength="38.4" lengthAdjust="spacingAndGlyphs" stroke="#2b2b2b" stroke-width="0.12">EPO-0.03 U/ml</text>
<rect x="379.38" y="617.40" width="8.00" height="37.10" fill="#da6a7e"/>
<rect x="391.33" y="622.97" width="8.00" height="31.53" fill="#e8a0ad"/>
<rect x="403.28" y="627.79" width="8.00" height="26.71" fill="#f1c2ca"/>
<rect x="415.23" y="640.03" width="8.00" height="14.47" fill="#f8dfe3"/>
<rect x="379.58" y="616.20" width="7.6" height="2.3" rx="1.1" fill="#c8102e"/>
<line x1="375.98" y1="594.80" x2="375.98" y2="655.00" stroke="#1a1a1a" stroke-width="1.2"/>
<line x1="372.78" y1="654.50" x2="375.98" y2="654.50" stroke="#1a1a1a" stroke-width="1.1"/>
<text x="370.38" y="657.20" font-size="7.6" text-anchor="end" textLength="10.0" lengthAdjust="spacingAndGlyphs" stroke="#2b2b2b" stroke-width="0.12">0.0</text>
<line x1="372.78" y1="635.95" x2="375.98" y2="635.95" stroke="#1a1a1a" stroke-width="1.1"/>
<text x="370.38" y="638.65" font-size="7.6" text-anchor="end" textLength="10.0" lengthAdjust="spacingAndGlyphs" stroke="#2b2b2b" stroke-width="0.12">0.5</text>
<line x1="372.78" y1="617.40" x2="375.98" y2="617.40" stroke="#1a1a1a" stroke-width="1.1"/>
<text x="370.38" y="620.10" font-size="7.6" text-anchor="end" textLength="10.0" lengthAdjust="spacingAndGlyphs" stroke="#2b2b2b" stroke-width="0.12">1.0</text>
<line x1="372.78" y1="598.85" x2="375.98" y2="598.85" stroke="#1a1a1a" stroke-width="1.1"/>
<text x="370.38" y="601.55" font-size="7.6" text-anchor="end" textLength="10.0" lengthAdjust="spacingAndGlyphs" stroke="#2b2b2b" stroke-width="0.12">1.5</text>
<line x1="375.38" y1="654.50" x2="427.98" y2="654.50" stroke="#1a1a1a" stroke-width="1.2"/>
<line x1="401.18" y1="654.50" x2="401.18" y2="656.70" stroke="#1a1a1a" stroke-width="0.8"/>
<text x="353.68" y="626.90" font-size="7.4" text-anchor="middle" textLength="18" lengthAdjust="spacingAndGlyphs" transform="rotate(-90 353.68 626.90)" stroke="#2b2b2b" stroke-width="0.12">pS6/S6</text>
<circle cx="394.98" cy="611.60" r="1.3" fill="#c8102e"/>
<circle cx="394.98" cy="615.90" r="1.3" fill="#c8102e"/>
<circle cx="392.18" cy="624.40" r="1.3" fill="#c8102e"/>
<circle cx="398.08" cy="626.20" r="1.3" fill="#c8102e"/>
<circle cx="394.98" cy="635.20" r="1.3" fill="#c8102e"/>
<circle cx="404.08" cy="622.10" r="1.3" fill="#c8102e"/>
<circle cx="409.98" cy="623.30" r="1.3" fill="#c8102e"/>
<circle cx="404.08" cy="627.90" r="1.3" fill="#c8102e"/>
<circle cx="409.98" cy="628.50" r="1.3" fill="#c8102e"/>
<circle cx="407.08" cy="632.40" r="1.3" fill="#c8102e"/>
<circle cx="415.78" cy="636.70" r="1.3" fill="#c8102e"/>
<circle cx="422.18" cy="636.70" r="1.3" fill="#c8102e"/>
<circle cx="419.08" cy="638.40" r="1.3" fill="#c8102e"/>
<circle cx="419.08" cy="648.20" r="1.3" fill="#c8102e"/>
<line x1="395.33" y1="618.60" x2="395.33" y2="626.80" stroke="#1a1a1a" stroke-width="0.9"/>
<line x1="393.43" y1="618.60" x2="397.23" y2="618.60" stroke="#1a1a1a" stroke-width="0.9"/>
<line x1="393.43" y1="626.80" x2="397.23" y2="626.80" stroke="#1a1a1a" stroke-width="0.9"/>
<line x1="407.28" y1="625.40" x2="407.28" y2="628.90" stroke="#1a1a1a" stroke-width="0.9"/>
<line x1="405.38" y1="625.40" x2="409.18" y2="625.40" stroke="#1a1a1a" stroke-width="0.9"/>
<line x1="405.38" y1="628.90" x2="409.18" y2="628.90" stroke="#1a1a1a" stroke-width="0.9"/>
<line x1="419.23" y1="637.10" x2="419.23" y2="641.70" stroke="#1a1a1a" stroke-width="0.9"/>
<line x1="417.33" y1="637.10" x2="421.13" y2="637.10" stroke="#1a1a1a" stroke-width="0.9"/>
<line x1="417.33" y1="641.70" x2="421.13" y2="641.70" stroke="#1a1a1a" stroke-width="0.9"/>
<path d="M383.38,614.40 L383.38,605.20 L395.33,605.20 L395.33,608.70" fill="none" stroke="#2a2a2a" stroke-width="0.95" stroke-linejoin="round" stroke-linecap="round"/>
<text x="389.36" y="603.00" font-size="7.2" text-anchor="middle" textLength="7.3" lengthAdjust="spacingAndGlyphs" stroke="#2b2b2b" stroke-width="0.12">ns</text>
<path d="M383.38,601.60 L383.38,592.40 L407.28,592.40 L407.28,618.60" fill="none" stroke="#2a2a2a" stroke-width="0.95" stroke-linejoin="round" stroke-linecap="round"/>
<circle cx="395.33" cy="588.50" r="1.22" fill="#1e1e1e"/>
<path d="M383.38,588.80 L383.38,581.30 L419.23,581.30 L419.23,633.20" fill="none" stroke="#2a2a2a" stroke-width="0.95" stroke-linejoin="round" stroke-linecap="round"/>
<circle cx="396.13" cy="577.40" r="1.22" fill="#1e1e1e"/>
<circle cx="399.58" cy="577.40" r="1.22" fill="#1e1e1e"/>
<circle cx="403.03" cy="577.40" r="1.22" fill="#1e1e1e"/>
<circle cx="406.48" cy="577.40" r="1.22" fill="#1e1e1e"/>
<text x="375.38" y="666.50" font-size="6.4" text-anchor="end" textLength="21.9" lengthAdjust="spacingAndGlyphs" stroke="#2b2b2b" stroke-width="0.12">HMGB1</text>
<text x="383.38" y="666.80" font-size="7.8" text-anchor="middle" stroke="#2b2b2b" stroke-width="0.12">0</text>
<text x="395.33" y="666.80" font-size="7.8" text-anchor="middle" stroke="#2b2b2b" stroke-width="0.12">1</text>
<text x="407.28" y="666.80" font-size="7.8" text-anchor="middle" stroke="#2b2b2b" stroke-width="0.12">3</text>
<text x="419.23" y="666.80" font-size="7.8" text-anchor="middle" stroke="#2b2b2b" stroke-width="0.12">10</text>
<line x1="382.38" y1="670.40" x2="425.63" y2="670.40" stroke="#2a2a2a" stroke-width="1.0"/>
<text x="403.91" y="678.00" font-size="6.4" text-anchor="middle" textLength="34.0" lengthAdjust="spacingAndGlyphs" stroke="#2b2b2b" stroke-width="0.12">EPO-0.3 U/ml</text>
<rect x="464.80" y="617.40" width="8.00" height="37.10" fill="#da6a7e"/>
<rect x="476.75" y="623.71" width="8.00" height="30.79" fill="#e8a0ad"/>
<rect x="488.70" y="630.01" width="8.00" height="24.49" fill="#f1c2ca"/>
<rect x="500.65" y="633.72" width="8.00" height="20.78" fill="#f8dfe3"/>
<rect x="465.00" y="616.20" width="7.6" height="2.3" rx="1.1" fill="#c8102e"/>
<line x1="461.40" y1="594.80" x2="461.40" y2="655.00" stroke="#1a1a1a" stroke-width="1.2"/>
<line x1="458.20" y1="654.50" x2="461.40" y2="654.50" stroke="#1a1a1a" stroke-width="1.1"/>
<text x="455.80" y="657.20" font-size="7.6" text-anchor="end" textLength="10.0" lengthAdjust="spacingAndGlyphs" stroke="#2b2b2b" stroke-width="0.12">0.0</text>
<line x1="458.20" y1="635.95" x2="461.40" y2="635.95" stroke="#1a1a1a" stroke-width="1.1"/>
<text x="455.80" y="638.65" font-size="7.6" text-anchor="end" textLength="10.0" lengthAdjust="spacingAndGlyphs" stroke="#2b2b2b" stroke-width="0.12">0.5</text>
<line x1="458.20" y1="617.40" x2="461.40" y2="617.40" stroke="#1a1a1a" stroke-width="1.1"/>
<text x="455.80" y="620.10" font-size="7.6" text-anchor="end" textLength="10.0" lengthAdjust="spacingAndGlyphs" stroke="#2b2b2b" stroke-width="0.12">1.0</text>
<line x1="458.20" y1="598.85" x2="461.40" y2="598.85" stroke="#1a1a1a" stroke-width="1.1"/>
<text x="455.80" y="601.55" font-size="7.6" text-anchor="end" textLength="10.0" lengthAdjust="spacingAndGlyphs" stroke="#2b2b2b" stroke-width="0.12">1.5</text>
<line x1="460.80" y1="654.50" x2="513.40" y2="654.50" stroke="#1a1a1a" stroke-width="1.2"/>
<line x1="486.60" y1="654.50" x2="486.60" y2="656.70" stroke="#1a1a1a" stroke-width="0.8"/>
<text x="439.10" y="626.90" font-size="7.4" text-anchor="middle" textLength="18" lengthAdjust="spacingAndGlyphs" transform="rotate(-90 439.10 626.90)" stroke="#2b2b2b" stroke-width="0.12">pS6/S6</text>
<circle cx="481.20" cy="608.70" r="1.3" fill="#c8102e"/>
<circle cx="481.20" cy="621.00" r="1.3" fill="#c8102e"/>
<circle cx="481.20" cy="624.40" r="1.3" fill="#c8102e"/>
<circle cx="481.20" cy="627.90" r="1.3" fill="#c8102e"/>
<circle cx="481.20" cy="635.90" r="1.3" fill="#c8102e"/>
<circle cx="489.70" cy="622.10" r="1.3" fill="#c8102e"/>
<circle cx="496.40" cy="624.20" r="1.3" fill="#c8102e"/>
<circle cx="489.70" cy="628.20" r="1.3" fill="#c8102e"/>
<circle cx="496.40" cy="628.50" r="1.3" fill="#c8102e"/>
<circle cx="493.00" cy="646.40" r="1.3" fill="#c8102e"/>
<circle cx="504.50" cy="624.20" r="1.3" fill="#c8102e"/>
<circle cx="504.50" cy="629.10" r="1.3" fill="#c8102e"/>
<circle cx="504.50" cy="633.80" r="1.3" fill="#c8102e"/>
<circle cx="502.00" cy="641.30" r="1.3" fill="#c8102e"/>
<circle cx="507.80" cy="639.40" r="1.3" fill="#c8102e"/>
<line x1="480.75" y1="619.20" x2="480.75" y2="627.90" stroke="#1a1a1a" stroke-width="0.9"/>
<line x1="478.85" y1="619.20" x2="482.65" y2="619.20" stroke="#1a1a1a" stroke-width="0.9"/>
<line x1="478.85" y1="627.90" x2="482.65" y2="627.90" stroke="#1a1a1a" stroke-width="0.9"/>
<line x1="492.70" y1="625.60" x2="492.70" y2="634.30" stroke="#1a1a1a" stroke-width="0.9"/>
<line x1="490.80" y1="625.60" x2="494.60" y2="625.60" stroke="#1a1a1a" stroke-width="0.9"/>
<line x1="490.80" y1="634.30" x2="494.60" y2="634.30" stroke="#1a1a1a" stroke-width="0.9"/>
<line x1="504.65" y1="630.50" x2="504.65" y2="636.10" stroke="#1a1a1a" stroke-width="0.9"/>
<line x1="502.75" y1="630.50" x2="506.55" y2="630.50" stroke="#1a1a1a" stroke-width="0.9"/>
<line x1="502.75" y1="636.10" x2="506.55" y2="636.10" stroke="#1a1a1a" stroke-width="0.9"/>
<path d="M468.80,614.40 L468.80,602.30 L480.75,602.30 L480.75,605.20" fill="none" stroke="#2a2a2a" stroke-width="0.95" stroke-linejoin="round" stroke-linecap="round"/>
<text x="474.77" y="600.10" font-size="7.2" text-anchor="middle" textLength="7.3" lengthAdjust="spacingAndGlyphs" stroke="#2b2b2b" stroke-width="0.12">ns</text>
<path d="M468.80,598.70 L468.80,589.50 L492.70,589.50 L492.70,618.80" fill="none" stroke="#2a2a2a" stroke-width="0.95" stroke-linejoin="round" stroke-linecap="round"/>
<text x="480.75" y="587.30" font-size="7.2" text-anchor="middle" textLength="7.3" lengthAdjust="spacingAndGlyphs" stroke="#2b2b2b" stroke-width="0.12">ns</text>
<path d="M468.80,585.90 L468.80,576.90 L504.65,576.90 L504.65,620.40" fill="none" stroke="#2a2a2a" stroke-width="0.95" stroke-linejoin="round" stroke-linecap="round"/>
<circle cx="486.73" cy="573.00" r="1.22" fill="#1e1e1e"/>
<text x="460.80" y="666.50" font-size="6.4" text-anchor="end" textLength="21.9" lengthAdjust="spacingAndGlyphs" stroke="#2b2b2b" stroke-width="0.12">HMGB1</text>
<text x="468.80" y="666.80" font-size="7.8" text-anchor="middle" stroke="#2b2b2b" stroke-width="0.12">0</text>
<text x="480.75" y="666.80" font-size="7.8" text-anchor="middle" stroke="#2b2b2b" stroke-width="0.12">1</text>
<text x="492.70" y="666.80" font-size="7.8" text-anchor="middle" stroke="#2b2b2b" stroke-width="0.12">3</text>
<text x="504.65" y="666.80" font-size="7.8" text-anchor="middle" stroke="#2b2b2b" stroke-width="0.12">10</text>
<line x1="467.80" y1="670.40" x2="511.05" y2="670.40" stroke="#2a2a2a" stroke-width="1.0"/>
<text x="489.33" y="678.00" font-size="6.4" text-anchor="middle" textLength="29.5" lengthAdjust="spacingAndGlyphs" stroke="#2b2b2b" stroke-width="0.12">EPO-3 U/ml</text>
</g>
<rect x="0.60" y="0.60" width="518.80" height="684.80" fill="none" stroke="#000" stroke-width="1.25"/>
</svg>
</body></html>
